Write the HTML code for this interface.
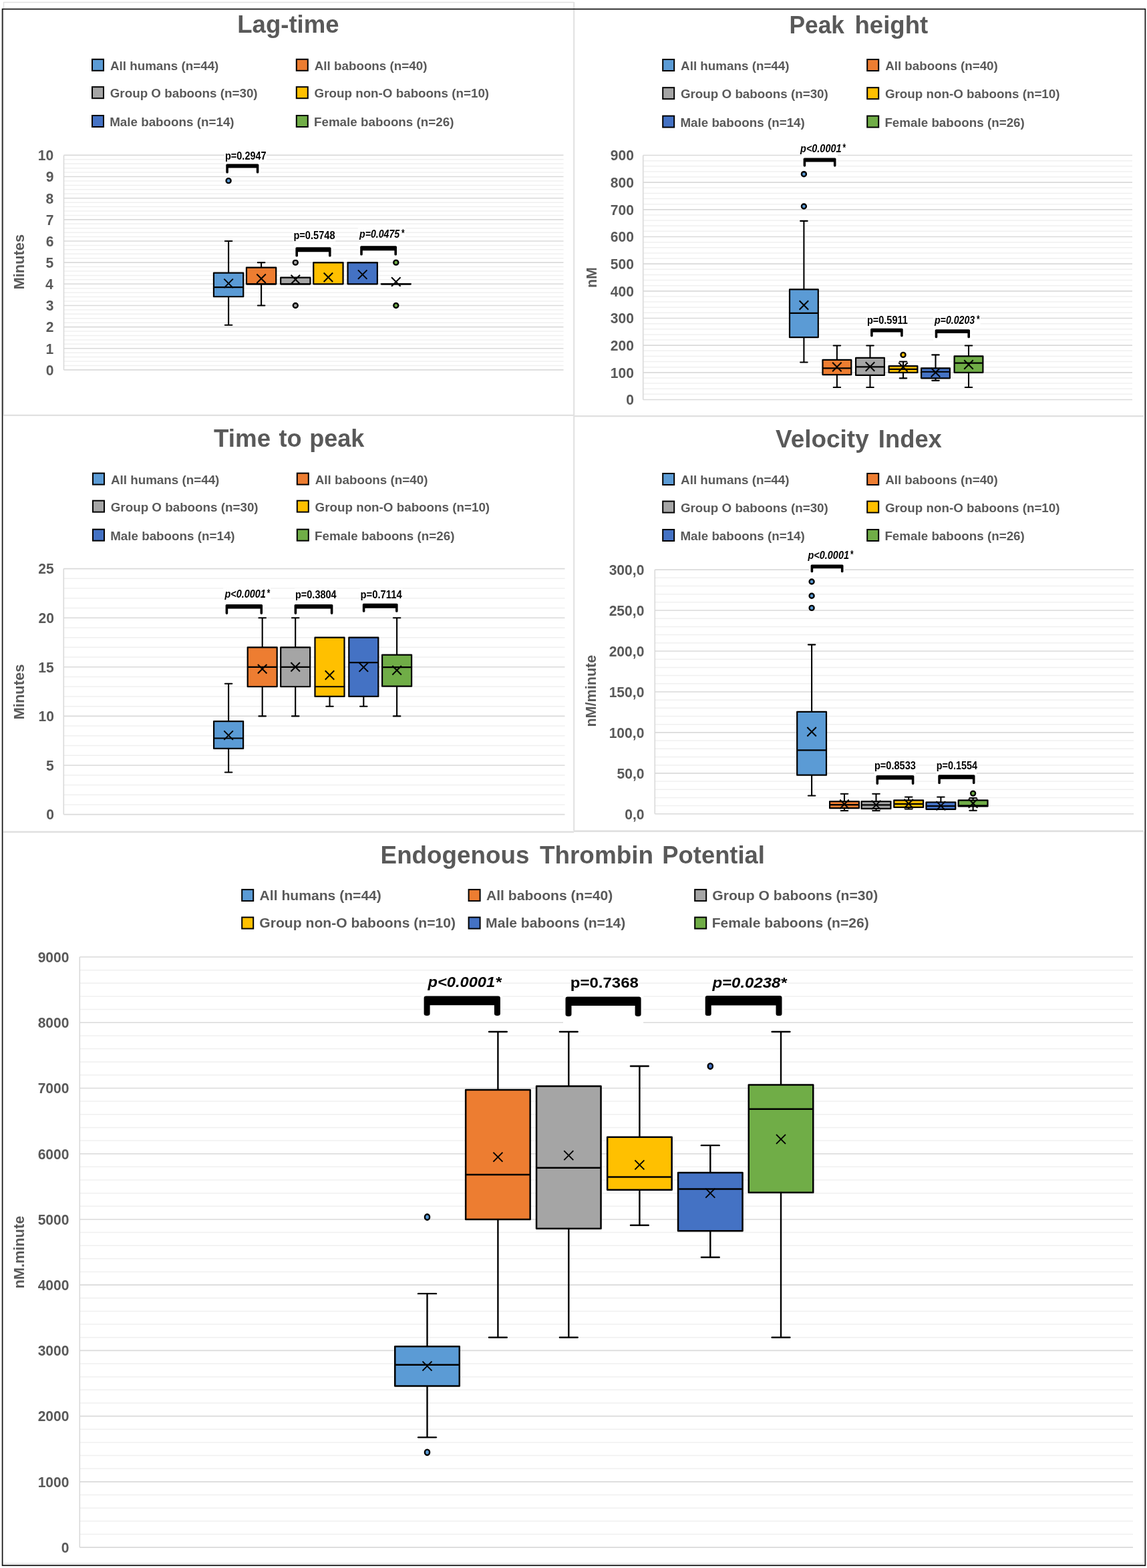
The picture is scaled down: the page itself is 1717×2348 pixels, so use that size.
<!DOCTYPE html><html><head><meta charset="utf-8"><title>Thrombin generation box plots</title><style>html,body{margin:0;padding:0;background:#fff;}svg{display:block;}</style></head><body><svg width="1717" height="2348" viewBox="0 0 1717 2348" font-family="Liberation Sans, Arial, sans-serif">
<rect x="0" y="0" width="1717" height="2348" fill="#fff" stroke="none" stroke-width="0"/>
<line x1="5" y1="3.5" x2="859" y2="3.5" stroke="#E0E0E0" stroke-width="1.6" stroke-linecap="butt"/>
<line x1="5.5" y1="3" x2="5.5" y2="622" stroke="#E0E0E0" stroke-width="1.4" stroke-linecap="butt"/>
<line x1="859.2" y1="3" x2="859.2" y2="1244" stroke="#E0E0E0" stroke-width="2" stroke-linecap="butt"/>
<line x1="5" y1="621.8" x2="859" y2="621.8" stroke="#E0E0E0" stroke-width="2.2" stroke-linecap="butt"/>
<line x1="859" y1="623.2" x2="1712" y2="623.2" stroke="#E0E0E0" stroke-width="2.2" stroke-linecap="butt"/>
<line x1="5" y1="1245.8" x2="859" y2="1245.8" stroke="#E0E0E0" stroke-width="2.4" stroke-linecap="butt"/>
<line x1="859" y1="1244.6" x2="1712" y2="1244.6" stroke="#E0E0E0" stroke-width="2.6" stroke-linecap="butt"/>
<line x1="5" y1="2341.5" x2="1712" y2="2341.5" stroke="#E8E8E8" stroke-width="2" stroke-linecap="butt"/>
<line x1="1711.9" y1="1245" x2="1711.9" y2="2342" stroke="#E6E6E6" stroke-width="1.4" stroke-linecap="butt"/>
<text x="355.24" y="49.4" font-size="36" font-weight="bold" fill="#595959" textLength="152.4" lengthAdjust="spacingAndGlyphs">Lag-time</text>
<rect x="138" y="88.8" width="17" height="17" fill="#5B9BD5" stroke="#000" stroke-width="2"/>
<text x="164.94" y="104.8" font-size="18.8" font-weight="bold" fill="#595959" textLength="162.43" lengthAdjust="spacingAndGlyphs">All humans (n=44)</text>
<rect x="443.8" y="88.8" width="17" height="17" fill="#ED7D31" stroke="#000" stroke-width="2"/>
<text x="470.74" y="104.8" font-size="18.8" font-weight="bold" fill="#595959" textLength="168.68" lengthAdjust="spacingAndGlyphs">All baboons (n=40)</text>
<rect x="138" y="130.2" width="17" height="17" fill="#A5A5A5" stroke="#000" stroke-width="2"/>
<text x="164.75" y="146.2" font-size="18.8" font-weight="bold" fill="#595959" textLength="220.89" lengthAdjust="spacingAndGlyphs">Group O baboons (n=30)</text>
<rect x="443.8" y="130.2" width="17" height="17" fill="#FFC000" stroke="#000" stroke-width="2"/>
<text x="470.55" y="146.2" font-size="18.8" font-weight="bold" fill="#595959" textLength="261.6" lengthAdjust="spacingAndGlyphs">Group non-O baboons (n=10)</text>
<rect x="138" y="173" width="17" height="17" fill="#4472C4" stroke="#000" stroke-width="2"/>
<text x="164.18" y="189" font-size="18.8" font-weight="bold" fill="#595959" textLength="186.45" lengthAdjust="spacingAndGlyphs">Male baboons (n=14)</text>
<rect x="443.8" y="173" width="17" height="17" fill="#70AD47" stroke="#000" stroke-width="2"/>
<text x="469.98" y="189" font-size="18.8" font-weight="bold" fill="#595959" textLength="209.45" lengthAdjust="spacingAndGlyphs">Female baboons (n=26)</text>
<text transform="translate(36 433.53) rotate(-90)" font-size="22.5" font-weight="bold" fill="#595959" textLength="82.76" lengthAdjust="spacingAndGlyphs">Minutes</text>
<text x="1181.42" y="49.5" font-size="36" font-weight="bold" fill="#595959" textLength="82.61" lengthAdjust="spacingAndGlyphs">Peak</text>
<text x="1279.44" y="49.5" font-size="36" font-weight="bold" fill="#595959" textLength="109.8" lengthAdjust="spacingAndGlyphs">height</text>
<rect x="992.2" y="89" width="17" height="17" fill="#5B9BD5" stroke="#000" stroke-width="2"/>
<text x="1019.14" y="105" font-size="18.8" font-weight="bold" fill="#595959" textLength="162.43" lengthAdjust="spacingAndGlyphs">All humans (n=44)</text>
<rect x="1298.2" y="89" width="17" height="17" fill="#ED7D31" stroke="#000" stroke-width="2"/>
<text x="1325.14" y="105" font-size="18.8" font-weight="bold" fill="#595959" textLength="168.68" lengthAdjust="spacingAndGlyphs">All baboons (n=40)</text>
<rect x="992.2" y="131.2" width="17" height="17" fill="#A5A5A5" stroke="#000" stroke-width="2"/>
<text x="1018.95" y="147.2" font-size="18.8" font-weight="bold" fill="#595959" textLength="220.89" lengthAdjust="spacingAndGlyphs">Group O baboons (n=30)</text>
<rect x="1298.2" y="131.2" width="17" height="17" fill="#FFC000" stroke="#000" stroke-width="2"/>
<text x="1324.95" y="147.2" font-size="18.8" font-weight="bold" fill="#595959" textLength="261.6" lengthAdjust="spacingAndGlyphs">Group non-O baboons (n=10)</text>
<rect x="992.2" y="173.6" width="17" height="17" fill="#4472C4" stroke="#000" stroke-width="2"/>
<text x="1018.38" y="189.6" font-size="18.8" font-weight="bold" fill="#595959" textLength="186.45" lengthAdjust="spacingAndGlyphs">Male baboons (n=14)</text>
<rect x="1298.2" y="173.6" width="17" height="17" fill="#70AD47" stroke="#000" stroke-width="2"/>
<text x="1324.38" y="189.6" font-size="18.8" font-weight="bold" fill="#595959" textLength="209.45" lengthAdjust="spacingAndGlyphs">Female baboons (n=26)</text>
<text transform="translate(892.7 431.1) rotate(-90)" font-size="22.5" font-weight="bold" fill="#595959" textLength="30.86" lengthAdjust="spacingAndGlyphs">nM</text>
<text x="320.03" y="668.7" font-size="36" font-weight="bold" fill="#595959" textLength="85.08" lengthAdjust="spacingAndGlyphs">Time</text>
<text x="417.54" y="668.7" font-size="36" font-weight="bold" fill="#595959" textLength="34.14" lengthAdjust="spacingAndGlyphs">to</text>
<text x="463.18" y="668.7" font-size="36" font-weight="bold" fill="#595959" textLength="82.19" lengthAdjust="spacingAndGlyphs">peak</text>
<rect x="139" y="708.6" width="17" height="17" fill="#5B9BD5" stroke="#000" stroke-width="2"/>
<text x="165.94" y="724.6" font-size="18.8" font-weight="bold" fill="#595959" textLength="162.43" lengthAdjust="spacingAndGlyphs">All humans (n=44)</text>
<rect x="444.8" y="708.6" width="17" height="17" fill="#ED7D31" stroke="#000" stroke-width="2"/>
<text x="471.74" y="724.6" font-size="18.8" font-weight="bold" fill="#595959" textLength="168.68" lengthAdjust="spacingAndGlyphs">All baboons (n=40)</text>
<rect x="139" y="749.7" width="17" height="17" fill="#A5A5A5" stroke="#000" stroke-width="2"/>
<text x="165.75" y="765.7" font-size="18.8" font-weight="bold" fill="#595959" textLength="220.89" lengthAdjust="spacingAndGlyphs">Group O baboons (n=30)</text>
<rect x="444.8" y="749.7" width="17" height="17" fill="#FFC000" stroke="#000" stroke-width="2"/>
<text x="471.55" y="765.7" font-size="18.8" font-weight="bold" fill="#595959" textLength="261.6" lengthAdjust="spacingAndGlyphs">Group non-O baboons (n=10)</text>
<rect x="139" y="792.7" width="17" height="17" fill="#4472C4" stroke="#000" stroke-width="2"/>
<text x="165.18" y="808.7" font-size="18.8" font-weight="bold" fill="#595959" textLength="186.45" lengthAdjust="spacingAndGlyphs">Male baboons (n=14)</text>
<rect x="444.8" y="792.7" width="17" height="17" fill="#70AD47" stroke="#000" stroke-width="2"/>
<text x="470.98" y="808.7" font-size="18.8" font-weight="bold" fill="#595959" textLength="209.45" lengthAdjust="spacingAndGlyphs">Female baboons (n=26)</text>
<text transform="translate(36 1077.44) rotate(-90)" font-size="22.5" font-weight="bold" fill="#595959" textLength="82.86" lengthAdjust="spacingAndGlyphs">Minutes</text>
<text x="1161.03" y="670.1" font-size="36" font-weight="bold" fill="#595959" textLength="139.72" lengthAdjust="spacingAndGlyphs">Velocity</text>
<text x="1314.85" y="670.1" font-size="36" font-weight="bold" fill="#595959" textLength="95" lengthAdjust="spacingAndGlyphs">Index</text>
<rect x="992.2" y="709" width="17" height="17" fill="#5B9BD5" stroke="#000" stroke-width="2"/>
<text x="1019.14" y="725" font-size="18.8" font-weight="bold" fill="#595959" textLength="162.43" lengthAdjust="spacingAndGlyphs">All humans (n=44)</text>
<rect x="1298.2" y="709" width="17" height="17" fill="#ED7D31" stroke="#000" stroke-width="2"/>
<text x="1325.14" y="725" font-size="18.8" font-weight="bold" fill="#595959" textLength="168.68" lengthAdjust="spacingAndGlyphs">All baboons (n=40)</text>
<rect x="992.2" y="750.6" width="17" height="17" fill="#A5A5A5" stroke="#000" stroke-width="2"/>
<text x="1018.95" y="766.6" font-size="18.8" font-weight="bold" fill="#595959" textLength="220.89" lengthAdjust="spacingAndGlyphs">Group O baboons (n=30)</text>
<rect x="1298.2" y="750.6" width="17" height="17" fill="#FFC000" stroke="#000" stroke-width="2"/>
<text x="1324.95" y="766.6" font-size="18.8" font-weight="bold" fill="#595959" textLength="261.6" lengthAdjust="spacingAndGlyphs">Group non-O baboons (n=10)</text>
<rect x="992.2" y="793" width="17" height="17" fill="#4472C4" stroke="#000" stroke-width="2"/>
<text x="1018.38" y="809" font-size="18.8" font-weight="bold" fill="#595959" textLength="186.45" lengthAdjust="spacingAndGlyphs">Male baboons (n=14)</text>
<rect x="1298.2" y="793" width="17" height="17" fill="#70AD47" stroke="#000" stroke-width="2"/>
<text x="1324.38" y="809" font-size="18.8" font-weight="bold" fill="#595959" textLength="209.45" lengthAdjust="spacingAndGlyphs">Female baboons (n=26)</text>
<text transform="translate(891.7 1088.61) rotate(-90)" font-size="22.5" font-weight="bold" fill="#595959" textLength="107.86" lengthAdjust="spacingAndGlyphs">nM/minute</text>
<text x="569.62" y="1292.9" font-size="36" font-weight="bold" fill="#595959" textLength="222.75" lengthAdjust="spacingAndGlyphs">Endogenous</text>
<text x="807.93" y="1292.9" font-size="36" font-weight="bold" fill="#595959" textLength="170.09" lengthAdjust="spacingAndGlyphs">Thrombin</text>
<text x="991.35" y="1292.9" font-size="36" font-weight="bold" fill="#595959" textLength="153.58" lengthAdjust="spacingAndGlyphs">Potential</text>
<rect x="362.2" y="1332.1" width="17" height="17" fill="#5B9BD5" stroke="#000" stroke-width="2"/>
<text x="388.57" y="1347.7" font-size="21.1" font-weight="bold" fill="#595959" textLength="182.31" lengthAdjust="spacingAndGlyphs">All humans (n=44)</text>
<rect x="701.6" y="1332.1" width="17" height="17" fill="#ED7D31" stroke="#000" stroke-width="2"/>
<text x="727.97" y="1347.7" font-size="21.1" font-weight="bold" fill="#595959" textLength="189.32" lengthAdjust="spacingAndGlyphs">All baboons (n=40)</text>
<rect x="1040.2" y="1332.1" width="17" height="17" fill="#A5A5A5" stroke="#000" stroke-width="2"/>
<text x="1066.36" y="1347.7" font-size="21.1" font-weight="bold" fill="#595959" textLength="247.92" lengthAdjust="spacingAndGlyphs">Group O baboons (n=30)</text>
<rect x="362.2" y="1373.6" width="17" height="17" fill="#FFC000" stroke="#000" stroke-width="2"/>
<text x="388.36" y="1389.2" font-size="21.1" font-weight="bold" fill="#595959" textLength="293.61" lengthAdjust="spacingAndGlyphs">Group non-O baboons (n=10)</text>
<rect x="701.6" y="1373.6" width="17" height="17" fill="#4472C4" stroke="#000" stroke-width="2"/>
<text x="727.12" y="1389.2" font-size="21.1" font-weight="bold" fill="#595959" textLength="209.26" lengthAdjust="spacingAndGlyphs">Male baboons (n=14)</text>
<rect x="1040.2" y="1373.6" width="17" height="17" fill="#70AD47" stroke="#000" stroke-width="2"/>
<text x="1065.72" y="1389.2" font-size="21.1" font-weight="bold" fill="#595959" textLength="235.07" lengthAdjust="spacingAndGlyphs">Female baboons (n=26)</text>
<text transform="translate(36 1929.52) rotate(-90)" font-size="22" font-weight="bold" fill="#595959" textLength="108.78" lengthAdjust="spacingAndGlyphs">nM.minute</text>
<line x1="95.5" y1="547.47" x2="843.5" y2="547.47" stroke="#F0F0F0" stroke-width="1.5" stroke-linecap="butt"/>
<line x1="95.5" y1="541.04" x2="843.5" y2="541.04" stroke="#F0F0F0" stroke-width="1.5" stroke-linecap="butt"/>
<line x1="95.5" y1="534.61" x2="843.5" y2="534.61" stroke="#F0F0F0" stroke-width="1.5" stroke-linecap="butt"/>
<line x1="95.5" y1="528.18" x2="843.5" y2="528.18" stroke="#F0F0F0" stroke-width="1.5" stroke-linecap="butt"/>
<line x1="95.5" y1="515.32" x2="843.5" y2="515.32" stroke="#F0F0F0" stroke-width="1.5" stroke-linecap="butt"/>
<line x1="95.5" y1="508.89" x2="843.5" y2="508.89" stroke="#F0F0F0" stroke-width="1.5" stroke-linecap="butt"/>
<line x1="95.5" y1="502.46" x2="843.5" y2="502.46" stroke="#F0F0F0" stroke-width="1.5" stroke-linecap="butt"/>
<line x1="95.5" y1="496.03" x2="843.5" y2="496.03" stroke="#F0F0F0" stroke-width="1.5" stroke-linecap="butt"/>
<line x1="95.5" y1="483.17" x2="843.5" y2="483.17" stroke="#F0F0F0" stroke-width="1.5" stroke-linecap="butt"/>
<line x1="95.5" y1="476.74" x2="843.5" y2="476.74" stroke="#F0F0F0" stroke-width="1.5" stroke-linecap="butt"/>
<line x1="95.5" y1="470.31" x2="843.5" y2="470.31" stroke="#F0F0F0" stroke-width="1.5" stroke-linecap="butt"/>
<line x1="95.5" y1="463.88" x2="843.5" y2="463.88" stroke="#F0F0F0" stroke-width="1.5" stroke-linecap="butt"/>
<line x1="95.5" y1="451.02" x2="843.5" y2="451.02" stroke="#F0F0F0" stroke-width="1.5" stroke-linecap="butt"/>
<line x1="95.5" y1="444.59" x2="843.5" y2="444.59" stroke="#F0F0F0" stroke-width="1.5" stroke-linecap="butt"/>
<line x1="95.5" y1="438.16" x2="843.5" y2="438.16" stroke="#F0F0F0" stroke-width="1.5" stroke-linecap="butt"/>
<line x1="95.5" y1="431.73" x2="843.5" y2="431.73" stroke="#F0F0F0" stroke-width="1.5" stroke-linecap="butt"/>
<line x1="95.5" y1="418.87" x2="843.5" y2="418.87" stroke="#F0F0F0" stroke-width="1.5" stroke-linecap="butt"/>
<line x1="95.5" y1="412.44" x2="843.5" y2="412.44" stroke="#F0F0F0" stroke-width="1.5" stroke-linecap="butt"/>
<line x1="95.5" y1="406.01" x2="843.5" y2="406.01" stroke="#F0F0F0" stroke-width="1.5" stroke-linecap="butt"/>
<line x1="95.5" y1="399.58" x2="843.5" y2="399.58" stroke="#F0F0F0" stroke-width="1.5" stroke-linecap="butt"/>
<line x1="95.5" y1="386.72" x2="843.5" y2="386.72" stroke="#F0F0F0" stroke-width="1.5" stroke-linecap="butt"/>
<line x1="95.5" y1="380.29" x2="843.5" y2="380.29" stroke="#F0F0F0" stroke-width="1.5" stroke-linecap="butt"/>
<line x1="95.5" y1="373.86" x2="843.5" y2="373.86" stroke="#F0F0F0" stroke-width="1.5" stroke-linecap="butt"/>
<line x1="95.5" y1="367.43" x2="843.5" y2="367.43" stroke="#F0F0F0" stroke-width="1.5" stroke-linecap="butt"/>
<line x1="95.5" y1="354.57" x2="843.5" y2="354.57" stroke="#F0F0F0" stroke-width="1.5" stroke-linecap="butt"/>
<line x1="95.5" y1="348.14" x2="843.5" y2="348.14" stroke="#F0F0F0" stroke-width="1.5" stroke-linecap="butt"/>
<line x1="95.5" y1="341.71" x2="843.5" y2="341.71" stroke="#F0F0F0" stroke-width="1.5" stroke-linecap="butt"/>
<line x1="95.5" y1="335.28" x2="843.5" y2="335.28" stroke="#F0F0F0" stroke-width="1.5" stroke-linecap="butt"/>
<line x1="95.5" y1="322.42" x2="843.5" y2="322.42" stroke="#F0F0F0" stroke-width="1.5" stroke-linecap="butt"/>
<line x1="95.5" y1="315.99" x2="843.5" y2="315.99" stroke="#F0F0F0" stroke-width="1.5" stroke-linecap="butt"/>
<line x1="95.5" y1="309.56" x2="843.5" y2="309.56" stroke="#F0F0F0" stroke-width="1.5" stroke-linecap="butt"/>
<line x1="95.5" y1="303.13" x2="843.5" y2="303.13" stroke="#F0F0F0" stroke-width="1.5" stroke-linecap="butt"/>
<line x1="95.5" y1="290.27" x2="843.5" y2="290.27" stroke="#F0F0F0" stroke-width="1.5" stroke-linecap="butt"/>
<line x1="95.5" y1="283.84" x2="843.5" y2="283.84" stroke="#F0F0F0" stroke-width="1.5" stroke-linecap="butt"/>
<line x1="95.5" y1="277.41" x2="843.5" y2="277.41" stroke="#F0F0F0" stroke-width="1.5" stroke-linecap="butt"/>
<line x1="95.5" y1="270.98" x2="843.5" y2="270.98" stroke="#F0F0F0" stroke-width="1.5" stroke-linecap="butt"/>
<line x1="95.5" y1="258.12" x2="843.5" y2="258.12" stroke="#F0F0F0" stroke-width="1.5" stroke-linecap="butt"/>
<line x1="95.5" y1="251.69" x2="843.5" y2="251.69" stroke="#F0F0F0" stroke-width="1.5" stroke-linecap="butt"/>
<line x1="95.5" y1="245.26" x2="843.5" y2="245.26" stroke="#F0F0F0" stroke-width="1.5" stroke-linecap="butt"/>
<line x1="95.5" y1="238.83" x2="843.5" y2="238.83" stroke="#F0F0F0" stroke-width="1.5" stroke-linecap="butt"/>
<line x1="95.5" y1="553.9" x2="843.5" y2="553.9" stroke="#DADADA" stroke-width="1.6" stroke-linecap="butt"/>
<line x1="95.5" y1="521.75" x2="843.5" y2="521.75" stroke="#DADADA" stroke-width="1.6" stroke-linecap="butt"/>
<line x1="95.5" y1="489.6" x2="843.5" y2="489.6" stroke="#DADADA" stroke-width="1.6" stroke-linecap="butt"/>
<line x1="95.5" y1="457.45" x2="843.5" y2="457.45" stroke="#DADADA" stroke-width="1.6" stroke-linecap="butt"/>
<line x1="95.5" y1="425.3" x2="843.5" y2="425.3" stroke="#DADADA" stroke-width="1.6" stroke-linecap="butt"/>
<line x1="95.5" y1="393.15" x2="843.5" y2="393.15" stroke="#DADADA" stroke-width="1.6" stroke-linecap="butt"/>
<line x1="95.5" y1="361" x2="843.5" y2="361" stroke="#DADADA" stroke-width="1.6" stroke-linecap="butt"/>
<line x1="95.5" y1="328.85" x2="843.5" y2="328.85" stroke="#DADADA" stroke-width="1.6" stroke-linecap="butt"/>
<line x1="95.5" y1="296.7" x2="843.5" y2="296.7" stroke="#DADADA" stroke-width="1.6" stroke-linecap="butt"/>
<line x1="95.5" y1="264.55" x2="843.5" y2="264.55" stroke="#DADADA" stroke-width="1.6" stroke-linecap="butt"/>
<line x1="95.5" y1="232.4" x2="843.5" y2="232.4" stroke="#DADADA" stroke-width="1.6" stroke-linecap="butt"/>
<line x1="95.5" y1="232.4" x2="95.5" y2="553.9" stroke="#D9D9D9" stroke-width="1.6" stroke-linecap="butt"/>
<text x="68.64" y="561.7" font-size="22.9" font-weight="bold" fill="#595959" textLength="11.72" lengthAdjust="spacingAndGlyphs">0</text>
<text x="68.43" y="529.55" font-size="22.9" font-weight="bold" fill="#595959" textLength="11.72" lengthAdjust="spacingAndGlyphs">1</text>
<text x="68.64" y="497.4" font-size="22.9" font-weight="bold" fill="#595959" textLength="11.72" lengthAdjust="spacingAndGlyphs">2</text>
<text x="68.64" y="465.25" font-size="22.9" font-weight="bold" fill="#595959" textLength="11.72" lengthAdjust="spacingAndGlyphs">3</text>
<text x="68.01" y="433.1" font-size="22.9" font-weight="bold" fill="#595959" textLength="11.72" lengthAdjust="spacingAndGlyphs">4</text>
<text x="68.43" y="400.95" font-size="22.9" font-weight="bold" fill="#595959" textLength="11.72" lengthAdjust="spacingAndGlyphs">5</text>
<text x="68.64" y="368.8" font-size="22.9" font-weight="bold" fill="#595959" textLength="11.72" lengthAdjust="spacingAndGlyphs">6</text>
<text x="68.86" y="336.65" font-size="22.9" font-weight="bold" fill="#595959" textLength="11.72" lengthAdjust="spacingAndGlyphs">7</text>
<text x="68.43" y="304.5" font-size="22.9" font-weight="bold" fill="#595959" textLength="11.72" lengthAdjust="spacingAndGlyphs">8</text>
<text x="68.64" y="272.35" font-size="22.9" font-weight="bold" fill="#595959" textLength="11.72" lengthAdjust="spacingAndGlyphs">9</text>
<text x="56.85" y="240.2" font-size="22.9" font-weight="bold" fill="#595959" textLength="23.43" lengthAdjust="spacingAndGlyphs">10</text>
<line x1="342.1" y1="444.27" x2="342.1" y2="486.71" stroke="#000" stroke-width="2.1" stroke-linecap="butt"/>
<line x1="336.85" y1="486.71" x2="347.35" y2="486.71" stroke="#000" stroke-width="2.1" stroke-linecap="round"/>
<line x1="342.1" y1="408.58" x2="342.1" y2="361" stroke="#000" stroke-width="2.1" stroke-linecap="butt"/>
<line x1="336.85" y1="361" x2="347.35" y2="361" stroke="#000" stroke-width="2.1" stroke-linecap="round"/>
<rect x="319.95" y="408.58" width="44.3" height="35.69" fill="#5B9BD5" stroke="#000" stroke-width="2.2" stroke-linejoin="round"/>
<line x1="319.95" y1="430.12" x2="364.25" y2="430.12" stroke="#000" stroke-width="2.2" stroke-linecap="butt"/>
<path d="M335.35 417.59L348.85 431.09M335.35 431.09L348.85 417.59" stroke="#000" stroke-width="2" fill="none"/>
<ellipse cx="342.1" cy="270.66" rx="3.5" ry="3.5" fill="#5B9BD5" stroke="#000" stroke-width="2.4"/>
<line x1="391.1" y1="425.3" x2="391.1" y2="457.45" stroke="#000" stroke-width="2.1" stroke-linecap="butt"/>
<line x1="385.85" y1="457.45" x2="396.35" y2="457.45" stroke="#000" stroke-width="2.1" stroke-linecap="round"/>
<line x1="391.1" y1="400.54" x2="391.1" y2="393.15" stroke="#000" stroke-width="2.1" stroke-linecap="butt"/>
<line x1="385.85" y1="393.15" x2="396.35" y2="393.15" stroke="#000" stroke-width="2.1" stroke-linecap="round"/>
<rect x="368.95" y="400.54" width="44.3" height="24.76" fill="#ED7D31" stroke="#000" stroke-width="2.2" stroke-linejoin="round"/>
<line x1="368.95" y1="425.3" x2="413.25" y2="425.3" stroke="#000" stroke-width="2.2" stroke-linecap="butt"/>
<path d="M384.35 410.51L397.85 424.01M384.35 424.01L397.85 410.51" stroke="#000" stroke-width="2" fill="none"/>
<rect x="420.15" y="415.65" width="44.3" height="9.64" fill="#A5A5A5" stroke="#000" stroke-width="2.2" stroke-linejoin="round"/>
<line x1="420.15" y1="425.3" x2="464.45" y2="425.3" stroke="#000" stroke-width="2.2" stroke-linecap="butt"/>
<path d="M435.55 411.8L449.05 425.3M435.55 425.3L449.05 411.8" stroke="#000" stroke-width="2" fill="none"/>
<ellipse cx="442.3" cy="393.15" rx="3.5" ry="3.5" fill="#A5A5A5" stroke="#000" stroke-width="2.4"/>
<ellipse cx="442.3" cy="457.45" rx="3.5" ry="3.5" fill="#A5A5A5" stroke="#000" stroke-width="2.4"/>
<rect x="469.25" y="393.15" width="44.3" height="32.15" fill="#FFC000" stroke="#000" stroke-width="2.2" stroke-linejoin="round"/>
<line x1="469.25" y1="393.15" x2="513.55" y2="393.15" stroke="#000" stroke-width="2.2" stroke-linecap="butt"/>
<path d="M484.65 408.58L498.15 422.08M484.65 422.08L498.15 408.58" stroke="#000" stroke-width="2" fill="none"/>
<rect x="520.55" y="393.15" width="44.3" height="32.15" fill="#4472C4" stroke="#000" stroke-width="2.2" stroke-linejoin="round"/>
<line x1="520.55" y1="393.15" x2="564.85" y2="393.15" stroke="#000" stroke-width="2.2" stroke-linecap="butt"/>
<path d="M535.95 404.4L549.45 417.9M535.95 417.9L549.45 404.4" stroke="#000" stroke-width="2" fill="none"/>
<rect x="570.65" y="425.3" width="44.3" height="0.01" fill="#70AD47" stroke="#000" stroke-width="2.2" stroke-linejoin="round"/>
<line x1="570.65" y1="425.3" x2="614.95" y2="425.3" stroke="#000" stroke-width="2.2" stroke-linecap="butt"/>
<path d="M586.05 415.33L599.55 428.83M586.05 428.83L599.55 415.33" stroke="#000" stroke-width="2" fill="none"/>
<ellipse cx="592.8" cy="393.15" rx="3.5" ry="3.5" fill="#70AD47" stroke="#000" stroke-width="2.4"/>
<ellipse cx="592.8" cy="457.45" rx="3.5" ry="3.5" fill="#70AD47" stroke="#000" stroke-width="2.4"/>
<line x1="962.7" y1="590.37" x2="1695" y2="590.37" stroke="#F0F0F0" stroke-width="1.5" stroke-linecap="butt"/>
<line x1="962.7" y1="582.23" x2="1695" y2="582.23" stroke="#F0F0F0" stroke-width="1.5" stroke-linecap="butt"/>
<line x1="962.7" y1="574.1" x2="1695" y2="574.1" stroke="#F0F0F0" stroke-width="1.5" stroke-linecap="butt"/>
<line x1="962.7" y1="565.97" x2="1695" y2="565.97" stroke="#F0F0F0" stroke-width="1.5" stroke-linecap="butt"/>
<line x1="962.7" y1="549.7" x2="1695" y2="549.7" stroke="#F0F0F0" stroke-width="1.5" stroke-linecap="butt"/>
<line x1="962.7" y1="541.57" x2="1695" y2="541.57" stroke="#F0F0F0" stroke-width="1.5" stroke-linecap="butt"/>
<line x1="962.7" y1="533.43" x2="1695" y2="533.43" stroke="#F0F0F0" stroke-width="1.5" stroke-linecap="butt"/>
<line x1="962.7" y1="525.3" x2="1695" y2="525.3" stroke="#F0F0F0" stroke-width="1.5" stroke-linecap="butt"/>
<line x1="962.7" y1="509.03" x2="1695" y2="509.03" stroke="#F0F0F0" stroke-width="1.5" stroke-linecap="butt"/>
<line x1="962.7" y1="500.9" x2="1695" y2="500.9" stroke="#F0F0F0" stroke-width="1.5" stroke-linecap="butt"/>
<line x1="962.7" y1="492.77" x2="1695" y2="492.77" stroke="#F0F0F0" stroke-width="1.5" stroke-linecap="butt"/>
<line x1="962.7" y1="484.63" x2="1695" y2="484.63" stroke="#F0F0F0" stroke-width="1.5" stroke-linecap="butt"/>
<line x1="962.7" y1="468.37" x2="1695" y2="468.37" stroke="#F0F0F0" stroke-width="1.5" stroke-linecap="butt"/>
<line x1="962.7" y1="460.23" x2="1695" y2="460.23" stroke="#F0F0F0" stroke-width="1.5" stroke-linecap="butt"/>
<line x1="962.7" y1="452.1" x2="1695" y2="452.1" stroke="#F0F0F0" stroke-width="1.5" stroke-linecap="butt"/>
<line x1="962.7" y1="443.97" x2="1695" y2="443.97" stroke="#F0F0F0" stroke-width="1.5" stroke-linecap="butt"/>
<line x1="962.7" y1="427.7" x2="1695" y2="427.7" stroke="#F0F0F0" stroke-width="1.5" stroke-linecap="butt"/>
<line x1="962.7" y1="419.57" x2="1695" y2="419.57" stroke="#F0F0F0" stroke-width="1.5" stroke-linecap="butt"/>
<line x1="962.7" y1="411.43" x2="1695" y2="411.43" stroke="#F0F0F0" stroke-width="1.5" stroke-linecap="butt"/>
<line x1="962.7" y1="403.3" x2="1695" y2="403.3" stroke="#F0F0F0" stroke-width="1.5" stroke-linecap="butt"/>
<line x1="962.7" y1="387.03" x2="1695" y2="387.03" stroke="#F0F0F0" stroke-width="1.5" stroke-linecap="butt"/>
<line x1="962.7" y1="378.9" x2="1695" y2="378.9" stroke="#F0F0F0" stroke-width="1.5" stroke-linecap="butt"/>
<line x1="962.7" y1="370.77" x2="1695" y2="370.77" stroke="#F0F0F0" stroke-width="1.5" stroke-linecap="butt"/>
<line x1="962.7" y1="362.63" x2="1695" y2="362.63" stroke="#F0F0F0" stroke-width="1.5" stroke-linecap="butt"/>
<line x1="962.7" y1="346.37" x2="1695" y2="346.37" stroke="#F0F0F0" stroke-width="1.5" stroke-linecap="butt"/>
<line x1="962.7" y1="338.23" x2="1695" y2="338.23" stroke="#F0F0F0" stroke-width="1.5" stroke-linecap="butt"/>
<line x1="962.7" y1="330.1" x2="1695" y2="330.1" stroke="#F0F0F0" stroke-width="1.5" stroke-linecap="butt"/>
<line x1="962.7" y1="321.97" x2="1695" y2="321.97" stroke="#F0F0F0" stroke-width="1.5" stroke-linecap="butt"/>
<line x1="962.7" y1="305.7" x2="1695" y2="305.7" stroke="#F0F0F0" stroke-width="1.5" stroke-linecap="butt"/>
<line x1="962.7" y1="297.57" x2="1695" y2="297.57" stroke="#F0F0F0" stroke-width="1.5" stroke-linecap="butt"/>
<line x1="962.7" y1="289.43" x2="1695" y2="289.43" stroke="#F0F0F0" stroke-width="1.5" stroke-linecap="butt"/>
<line x1="962.7" y1="281.3" x2="1695" y2="281.3" stroke="#F0F0F0" stroke-width="1.5" stroke-linecap="butt"/>
<line x1="962.7" y1="265.03" x2="1695" y2="265.03" stroke="#F0F0F0" stroke-width="1.5" stroke-linecap="butt"/>
<line x1="962.7" y1="256.9" x2="1695" y2="256.9" stroke="#F0F0F0" stroke-width="1.5" stroke-linecap="butt"/>
<line x1="962.7" y1="248.77" x2="1695" y2="248.77" stroke="#F0F0F0" stroke-width="1.5" stroke-linecap="butt"/>
<line x1="962.7" y1="240.63" x2="1695" y2="240.63" stroke="#F0F0F0" stroke-width="1.5" stroke-linecap="butt"/>
<line x1="962.7" y1="598.5" x2="1695" y2="598.5" stroke="#DADADA" stroke-width="1.6" stroke-linecap="butt"/>
<line x1="962.7" y1="557.83" x2="1695" y2="557.83" stroke="#DADADA" stroke-width="1.6" stroke-linecap="butt"/>
<line x1="962.7" y1="517.17" x2="1695" y2="517.17" stroke="#DADADA" stroke-width="1.6" stroke-linecap="butt"/>
<line x1="962.7" y1="476.5" x2="1695" y2="476.5" stroke="#DADADA" stroke-width="1.6" stroke-linecap="butt"/>
<line x1="962.7" y1="435.83" x2="1695" y2="435.83" stroke="#DADADA" stroke-width="1.6" stroke-linecap="butt"/>
<line x1="962.7" y1="395.17" x2="1695" y2="395.17" stroke="#DADADA" stroke-width="1.6" stroke-linecap="butt"/>
<line x1="962.7" y1="354.5" x2="1695" y2="354.5" stroke="#DADADA" stroke-width="1.6" stroke-linecap="butt"/>
<line x1="962.7" y1="313.83" x2="1695" y2="313.83" stroke="#DADADA" stroke-width="1.6" stroke-linecap="butt"/>
<line x1="962.7" y1="273.17" x2="1695" y2="273.17" stroke="#DADADA" stroke-width="1.6" stroke-linecap="butt"/>
<line x1="962.7" y1="232.5" x2="1695" y2="232.5" stroke="#DADADA" stroke-width="1.6" stroke-linecap="butt"/>
<line x1="962.7" y1="232.5" x2="962.7" y2="598.5" stroke="#D9D9D9" stroke-width="1.6" stroke-linecap="butt"/>
<text x="937.24" y="606.3" font-size="22.9" font-weight="bold" fill="#595959" textLength="11.72" lengthAdjust="spacingAndGlyphs">0</text>
<text x="913.86" y="565.63" font-size="22.9" font-weight="bold" fill="#595959" textLength="35.15" lengthAdjust="spacingAndGlyphs">100</text>
<text x="913.86" y="524.97" font-size="22.9" font-weight="bold" fill="#595959" textLength="35.15" lengthAdjust="spacingAndGlyphs">200</text>
<text x="913.86" y="484.3" font-size="22.9" font-weight="bold" fill="#595959" textLength="35.15" lengthAdjust="spacingAndGlyphs">300</text>
<text x="913.86" y="443.63" font-size="22.9" font-weight="bold" fill="#595959" textLength="35.15" lengthAdjust="spacingAndGlyphs">400</text>
<text x="913.86" y="402.97" font-size="22.9" font-weight="bold" fill="#595959" textLength="35.15" lengthAdjust="spacingAndGlyphs">500</text>
<text x="913.86" y="362.3" font-size="22.9" font-weight="bold" fill="#595959" textLength="35.15" lengthAdjust="spacingAndGlyphs">600</text>
<text x="913.86" y="321.63" font-size="22.9" font-weight="bold" fill="#595959" textLength="35.15" lengthAdjust="spacingAndGlyphs">700</text>
<text x="913.86" y="280.97" font-size="22.9" font-weight="bold" fill="#595959" textLength="35.15" lengthAdjust="spacingAndGlyphs">800</text>
<text x="913.86" y="240.3" font-size="22.9" font-weight="bold" fill="#595959" textLength="35.15" lengthAdjust="spacingAndGlyphs">900</text>
<line x1="1203.4" y1="505.17" x2="1203.4" y2="542.46" stroke="#000" stroke-width="2.1" stroke-linecap="butt"/>
<line x1="1198.15" y1="542.46" x2="1208.65" y2="542.46" stroke="#000" stroke-width="2.1" stroke-linecap="round"/>
<line x1="1203.4" y1="433.39" x2="1203.4" y2="330.91" stroke="#000" stroke-width="2.1" stroke-linecap="butt"/>
<line x1="1198.15" y1="330.91" x2="1208.65" y2="330.91" stroke="#000" stroke-width="2.1" stroke-linecap="round"/>
<rect x="1182" y="433.39" width="42.8" height="71.78" fill="#5B9BD5" stroke="#000" stroke-width="2.2" stroke-linejoin="round"/>
<line x1="1182" y1="468.9" x2="1224.8" y2="468.9" stroke="#000" stroke-width="2.2" stroke-linecap="butt"/>
<path d="M1196.65 450.23L1210.15 463.73M1196.65 463.73L1210.15 450.23" stroke="#000" stroke-width="2" fill="none"/>
<ellipse cx="1203.4" cy="260.68" rx="3.5" ry="3.5" fill="#5B9BD5" stroke="#000" stroke-width="2.4"/>
<ellipse cx="1203.4" cy="309.03" rx="3.5" ry="3.5" fill="#5B9BD5" stroke="#000" stroke-width="2.4"/>
<line x1="1252.9" y1="561.09" x2="1252.9" y2="580" stroke="#000" stroke-width="2.1" stroke-linecap="butt"/>
<line x1="1247.65" y1="580" x2="1258.15" y2="580" stroke="#000" stroke-width="2.1" stroke-linecap="round"/>
<line x1="1252.9" y1="538.88" x2="1252.9" y2="517.57" stroke="#000" stroke-width="2.1" stroke-linecap="butt"/>
<line x1="1247.65" y1="517.57" x2="1258.15" y2="517.57" stroke="#000" stroke-width="2.1" stroke-linecap="round"/>
<rect x="1231.5" y="538.88" width="42.8" height="22.2" fill="#ED7D31" stroke="#000" stroke-width="2.2" stroke-linejoin="round"/>
<line x1="1231.5" y1="551.45" x2="1274.3" y2="551.45" stroke="#000" stroke-width="2.2" stroke-linecap="butt"/>
<path d="M1246.15 542.71L1259.65 556.21M1246.15 556.21L1259.65 542.71" stroke="#000" stroke-width="2" fill="none"/>
<line x1="1302.5" y1="561.9" x2="1302.5" y2="580" stroke="#000" stroke-width="2.1" stroke-linecap="butt"/>
<line x1="1297.25" y1="580" x2="1307.75" y2="580" stroke="#000" stroke-width="2.1" stroke-linecap="round"/>
<line x1="1302.5" y1="535.87" x2="1302.5" y2="517.57" stroke="#000" stroke-width="2.1" stroke-linecap="butt"/>
<line x1="1297.25" y1="517.57" x2="1307.75" y2="517.57" stroke="#000" stroke-width="2.1" stroke-linecap="round"/>
<rect x="1281.1" y="535.87" width="42.8" height="26.03" fill="#A5A5A5" stroke="#000" stroke-width="2.2" stroke-linejoin="round"/>
<line x1="1281.1" y1="549.29" x2="1323.9" y2="549.29" stroke="#000" stroke-width="2.2" stroke-linecap="butt"/>
<path d="M1295.75 542.3L1309.25 555.8M1295.75 555.8L1309.25 542.3" stroke="#000" stroke-width="2" fill="none"/>
<line x1="1352" y1="557.83" x2="1352" y2="566.37" stroke="#000" stroke-width="2.1" stroke-linecap="butt"/>
<line x1="1346.75" y1="566.37" x2="1357.25" y2="566.37" stroke="#000" stroke-width="2.1" stroke-linecap="round"/>
<line x1="1352" y1="548.07" x2="1352" y2="541.57" stroke="#000" stroke-width="2.1" stroke-linecap="butt"/>
<line x1="1346.75" y1="541.57" x2="1357.25" y2="541.57" stroke="#000" stroke-width="2.1" stroke-linecap="round"/>
<rect x="1330.6" y="548.07" width="42.8" height="9.76" fill="#FFC000" stroke="#000" stroke-width="2.2" stroke-linejoin="round"/>
<line x1="1330.6" y1="552.95" x2="1373.4" y2="552.95" stroke="#000" stroke-width="2.2" stroke-linecap="butt"/>
<path d="M1345.25 542.95L1358.75 556.45M1345.25 556.45L1358.75 542.95" stroke="#000" stroke-width="2" fill="none"/>
<ellipse cx="1352" cy="531.4" rx="3.5" ry="3.5" fill="#FFC000" stroke="#000" stroke-width="2.4"/>
<line x1="1400.5" y1="566.37" x2="1400.5" y2="569.83" stroke="#000" stroke-width="2.1" stroke-linecap="butt"/>
<line x1="1395.25" y1="569.83" x2="1405.75" y2="569.83" stroke="#000" stroke-width="2.1" stroke-linecap="round"/>
<line x1="1400.5" y1="551.45" x2="1400.5" y2="531.4" stroke="#000" stroke-width="2.1" stroke-linecap="butt"/>
<line x1="1395.25" y1="531.4" x2="1405.75" y2="531.4" stroke="#000" stroke-width="2.1" stroke-linecap="round"/>
<rect x="1379.1" y="551.45" width="42.8" height="14.92" fill="#4472C4" stroke="#000" stroke-width="2.2" stroke-linejoin="round"/>
<line x1="1379.1" y1="556.74" x2="1421.9" y2="556.74" stroke="#000" stroke-width="2.2" stroke-linecap="butt"/>
<path d="M1393.75 551.08L1407.25 564.58M1393.75 564.58L1407.25 551.08" stroke="#000" stroke-width="2" fill="none"/>
<line x1="1450" y1="557.83" x2="1450" y2="580" stroke="#000" stroke-width="2.1" stroke-linecap="butt"/>
<line x1="1444.75" y1="580" x2="1455.25" y2="580" stroke="#000" stroke-width="2.1" stroke-linecap="round"/>
<line x1="1450" y1="533.43" x2="1450" y2="517.57" stroke="#000" stroke-width="2.1" stroke-linecap="butt"/>
<line x1="1444.75" y1="517.57" x2="1455.25" y2="517.57" stroke="#000" stroke-width="2.1" stroke-linecap="round"/>
<rect x="1428.6" y="533.43" width="42.8" height="24.4" fill="#70AD47" stroke="#000" stroke-width="2.2" stroke-linejoin="round"/>
<line x1="1428.6" y1="543.6" x2="1471.4" y2="543.6" stroke="#000" stroke-width="2.2" stroke-linecap="butt"/>
<path d="M1443.25 539.29L1456.75 552.79M1443.25 552.79L1456.75 539.29" stroke="#000" stroke-width="2" fill="none"/>
<line x1="95.3" y1="1204.88" x2="845.5" y2="1204.88" stroke="#F0F0F0" stroke-width="1.5" stroke-linecap="butt"/>
<line x1="95.3" y1="1190.16" x2="845.5" y2="1190.16" stroke="#F0F0F0" stroke-width="1.5" stroke-linecap="butt"/>
<line x1="95.3" y1="1175.44" x2="845.5" y2="1175.44" stroke="#F0F0F0" stroke-width="1.5" stroke-linecap="butt"/>
<line x1="95.3" y1="1160.72" x2="845.5" y2="1160.72" stroke="#F0F0F0" stroke-width="1.5" stroke-linecap="butt"/>
<line x1="95.3" y1="1131.28" x2="845.5" y2="1131.28" stroke="#F0F0F0" stroke-width="1.5" stroke-linecap="butt"/>
<line x1="95.3" y1="1116.56" x2="845.5" y2="1116.56" stroke="#F0F0F0" stroke-width="1.5" stroke-linecap="butt"/>
<line x1="95.3" y1="1101.84" x2="845.5" y2="1101.84" stroke="#F0F0F0" stroke-width="1.5" stroke-linecap="butt"/>
<line x1="95.3" y1="1087.12" x2="845.5" y2="1087.12" stroke="#F0F0F0" stroke-width="1.5" stroke-linecap="butt"/>
<line x1="95.3" y1="1057.68" x2="845.5" y2="1057.68" stroke="#F0F0F0" stroke-width="1.5" stroke-linecap="butt"/>
<line x1="95.3" y1="1042.96" x2="845.5" y2="1042.96" stroke="#F0F0F0" stroke-width="1.5" stroke-linecap="butt"/>
<line x1="95.3" y1="1028.24" x2="845.5" y2="1028.24" stroke="#F0F0F0" stroke-width="1.5" stroke-linecap="butt"/>
<line x1="95.3" y1="1013.52" x2="845.5" y2="1013.52" stroke="#F0F0F0" stroke-width="1.5" stroke-linecap="butt"/>
<line x1="95.3" y1="984.08" x2="845.5" y2="984.08" stroke="#F0F0F0" stroke-width="1.5" stroke-linecap="butt"/>
<line x1="95.3" y1="969.36" x2="845.5" y2="969.36" stroke="#F0F0F0" stroke-width="1.5" stroke-linecap="butt"/>
<line x1="95.3" y1="954.64" x2="845.5" y2="954.64" stroke="#F0F0F0" stroke-width="1.5" stroke-linecap="butt"/>
<line x1="95.3" y1="939.92" x2="845.5" y2="939.92" stroke="#F0F0F0" stroke-width="1.5" stroke-linecap="butt"/>
<line x1="95.3" y1="910.48" x2="845.5" y2="910.48" stroke="#F0F0F0" stroke-width="1.5" stroke-linecap="butt"/>
<line x1="95.3" y1="895.76" x2="845.5" y2="895.76" stroke="#F0F0F0" stroke-width="1.5" stroke-linecap="butt"/>
<line x1="95.3" y1="881.04" x2="845.5" y2="881.04" stroke="#F0F0F0" stroke-width="1.5" stroke-linecap="butt"/>
<line x1="95.3" y1="866.32" x2="845.5" y2="866.32" stroke="#F0F0F0" stroke-width="1.5" stroke-linecap="butt"/>
<line x1="95.3" y1="1219.6" x2="845.5" y2="1219.6" stroke="#DADADA" stroke-width="1.6" stroke-linecap="butt"/>
<line x1="95.3" y1="1146" x2="845.5" y2="1146" stroke="#DADADA" stroke-width="1.6" stroke-linecap="butt"/>
<line x1="95.3" y1="1072.4" x2="845.5" y2="1072.4" stroke="#DADADA" stroke-width="1.6" stroke-linecap="butt"/>
<line x1="95.3" y1="998.8" x2="845.5" y2="998.8" stroke="#DADADA" stroke-width="1.6" stroke-linecap="butt"/>
<line x1="95.3" y1="925.2" x2="845.5" y2="925.2" stroke="#DADADA" stroke-width="1.6" stroke-linecap="butt"/>
<line x1="95.3" y1="851.6" x2="845.5" y2="851.6" stroke="#DADADA" stroke-width="1.6" stroke-linecap="butt"/>
<line x1="95.3" y1="851.6" x2="95.3" y2="1219.6" stroke="#D9D9D9" stroke-width="1.6" stroke-linecap="butt"/>
<text x="69.24" y="1227.4" font-size="22.9" font-weight="bold" fill="#595959" textLength="11.72" lengthAdjust="spacingAndGlyphs">0</text>
<text x="69.03" y="1153.8" font-size="22.9" font-weight="bold" fill="#595959" textLength="11.72" lengthAdjust="spacingAndGlyphs">5</text>
<text x="57.45" y="1080.2" font-size="22.9" font-weight="bold" fill="#595959" textLength="23.43" lengthAdjust="spacingAndGlyphs">10</text>
<text x="57.24" y="1006.6" font-size="22.9" font-weight="bold" fill="#595959" textLength="23.43" lengthAdjust="spacingAndGlyphs">15</text>
<text x="57.45" y="933" font-size="22.9" font-weight="bold" fill="#595959" textLength="23.43" lengthAdjust="spacingAndGlyphs">20</text>
<text x="57.24" y="859.4" font-size="22.9" font-weight="bold" fill="#595959" textLength="23.43" lengthAdjust="spacingAndGlyphs">25</text>
<line x1="342.1" y1="1120.98" x2="342.1" y2="1156.45" stroke="#000" stroke-width="2.1" stroke-linecap="butt"/>
<line x1="336.85" y1="1156.45" x2="347.35" y2="1156.45" stroke="#000" stroke-width="2.1" stroke-linecap="round"/>
<line x1="342.1" y1="1080.05" x2="342.1" y2="1023.82" stroke="#000" stroke-width="2.1" stroke-linecap="butt"/>
<line x1="336.85" y1="1023.82" x2="347.35" y2="1023.82" stroke="#000" stroke-width="2.1" stroke-linecap="round"/>
<rect x="320.1" y="1080.05" width="44" height="40.92" fill="#5B9BD5" stroke="#000" stroke-width="2.2" stroke-linejoin="round"/>
<line x1="320.1" y1="1105.52" x2="364.1" y2="1105.52" stroke="#000" stroke-width="2.2" stroke-linecap="butt"/>
<path d="M335.35 1094.35L348.85 1107.85M335.35 1107.85L348.85 1094.35" stroke="#000" stroke-width="2" fill="none"/>
<line x1="392.7" y1="1028.24" x2="392.7" y2="1072.4" stroke="#000" stroke-width="2.1" stroke-linecap="butt"/>
<line x1="387.45" y1="1072.4" x2="397.95" y2="1072.4" stroke="#000" stroke-width="2.1" stroke-linecap="round"/>
<line x1="392.7" y1="969.36" x2="392.7" y2="925.2" stroke="#000" stroke-width="2.1" stroke-linecap="butt"/>
<line x1="387.45" y1="925.2" x2="397.95" y2="925.2" stroke="#000" stroke-width="2.1" stroke-linecap="round"/>
<rect x="370.7" y="969.36" width="44" height="58.88" fill="#ED7D31" stroke="#000" stroke-width="2.2" stroke-linejoin="round"/>
<line x1="370.7" y1="998.8" x2="414.7" y2="998.8" stroke="#000" stroke-width="2.2" stroke-linecap="butt"/>
<path d="M385.95 994.99L399.45 1008.49M385.95 1008.49L399.45 994.99" stroke="#000" stroke-width="2" fill="none"/>
<line x1="442.2" y1="1028.24" x2="442.2" y2="1072.4" stroke="#000" stroke-width="2.1" stroke-linecap="butt"/>
<line x1="436.95" y1="1072.4" x2="447.45" y2="1072.4" stroke="#000" stroke-width="2.1" stroke-linecap="round"/>
<line x1="442.2" y1="969.36" x2="442.2" y2="925.2" stroke="#000" stroke-width="2.1" stroke-linecap="butt"/>
<line x1="436.95" y1="925.2" x2="447.45" y2="925.2" stroke="#000" stroke-width="2.1" stroke-linecap="round"/>
<rect x="420.2" y="969.36" width="44" height="58.88" fill="#A5A5A5" stroke="#000" stroke-width="2.2" stroke-linejoin="round"/>
<line x1="420.2" y1="998.8" x2="464.2" y2="998.8" stroke="#000" stroke-width="2.2" stroke-linecap="butt"/>
<path d="M435.45 992.05L448.95 1005.55M435.45 1005.55L448.95 992.05" stroke="#000" stroke-width="2" fill="none"/>
<line x1="493.5" y1="1042.96" x2="493.5" y2="1057.68" stroke="#000" stroke-width="2.1" stroke-linecap="butt"/>
<line x1="488.25" y1="1057.68" x2="498.75" y2="1057.68" stroke="#000" stroke-width="2.1" stroke-linecap="round"/>
<rect x="471.5" y="954.64" width="44" height="88.32" fill="#FFC000" stroke="#000" stroke-width="2.2" stroke-linejoin="round"/>
<line x1="471.5" y1="1028.24" x2="515.5" y2="1028.24" stroke="#000" stroke-width="2.2" stroke-linecap="butt"/>
<path d="M486.75 1004.27L500.25 1017.77M486.75 1017.77L500.25 1004.27" stroke="#000" stroke-width="2" fill="none"/>
<line x1="544.3" y1="1042.96" x2="544.3" y2="1057.68" stroke="#000" stroke-width="2.1" stroke-linecap="butt"/>
<line x1="539.05" y1="1057.68" x2="549.55" y2="1057.68" stroke="#000" stroke-width="2.1" stroke-linecap="round"/>
<rect x="522.3" y="954.64" width="44" height="88.32" fill="#4472C4" stroke="#000" stroke-width="2.2" stroke-linejoin="round"/>
<line x1="522.3" y1="992.03" x2="566.3" y2="992.03" stroke="#000" stroke-width="2.2" stroke-linecap="butt"/>
<path d="M537.55 992.34L551.05 1005.84M537.55 1005.84L551.05 992.34" stroke="#000" stroke-width="2" fill="none"/>
<line x1="594.1" y1="1027.65" x2="594.1" y2="1072.4" stroke="#000" stroke-width="2.1" stroke-linecap="butt"/>
<line x1="588.85" y1="1072.4" x2="599.35" y2="1072.4" stroke="#000" stroke-width="2.1" stroke-linecap="round"/>
<line x1="594.1" y1="980.55" x2="594.1" y2="925.2" stroke="#000" stroke-width="2.1" stroke-linecap="butt"/>
<line x1="588.85" y1="925.2" x2="599.35" y2="925.2" stroke="#000" stroke-width="2.1" stroke-linecap="round"/>
<rect x="572.1" y="980.55" width="44" height="47.1" fill="#70AD47" stroke="#000" stroke-width="2.2" stroke-linejoin="round"/>
<line x1="572.1" y1="999.09" x2="616.1" y2="999.09" stroke="#000" stroke-width="2.2" stroke-linecap="butt"/>
<path d="M587.35 997.05L600.85 1010.55M587.35 1010.55L600.85 997.05" stroke="#000" stroke-width="2" fill="none"/>
<line x1="980.3" y1="1206.61" x2="1697" y2="1206.61" stroke="#F0F0F0" stroke-width="1.5" stroke-linecap="butt"/>
<line x1="980.3" y1="1194.42" x2="1697" y2="1194.42" stroke="#F0F0F0" stroke-width="1.5" stroke-linecap="butt"/>
<line x1="980.3" y1="1182.23" x2="1697" y2="1182.23" stroke="#F0F0F0" stroke-width="1.5" stroke-linecap="butt"/>
<line x1="980.3" y1="1170.04" x2="1697" y2="1170.04" stroke="#F0F0F0" stroke-width="1.5" stroke-linecap="butt"/>
<line x1="980.3" y1="1145.66" x2="1697" y2="1145.66" stroke="#F0F0F0" stroke-width="1.5" stroke-linecap="butt"/>
<line x1="980.3" y1="1133.47" x2="1697" y2="1133.47" stroke="#F0F0F0" stroke-width="1.5" stroke-linecap="butt"/>
<line x1="980.3" y1="1121.28" x2="1697" y2="1121.28" stroke="#F0F0F0" stroke-width="1.5" stroke-linecap="butt"/>
<line x1="980.3" y1="1109.09" x2="1697" y2="1109.09" stroke="#F0F0F0" stroke-width="1.5" stroke-linecap="butt"/>
<line x1="980.3" y1="1084.71" x2="1697" y2="1084.71" stroke="#F0F0F0" stroke-width="1.5" stroke-linecap="butt"/>
<line x1="980.3" y1="1072.52" x2="1697" y2="1072.52" stroke="#F0F0F0" stroke-width="1.5" stroke-linecap="butt"/>
<line x1="980.3" y1="1060.33" x2="1697" y2="1060.33" stroke="#F0F0F0" stroke-width="1.5" stroke-linecap="butt"/>
<line x1="980.3" y1="1048.14" x2="1697" y2="1048.14" stroke="#F0F0F0" stroke-width="1.5" stroke-linecap="butt"/>
<line x1="980.3" y1="1023.76" x2="1697" y2="1023.76" stroke="#F0F0F0" stroke-width="1.5" stroke-linecap="butt"/>
<line x1="980.3" y1="1011.57" x2="1697" y2="1011.57" stroke="#F0F0F0" stroke-width="1.5" stroke-linecap="butt"/>
<line x1="980.3" y1="999.38" x2="1697" y2="999.38" stroke="#F0F0F0" stroke-width="1.5" stroke-linecap="butt"/>
<line x1="980.3" y1="987.19" x2="1697" y2="987.19" stroke="#F0F0F0" stroke-width="1.5" stroke-linecap="butt"/>
<line x1="980.3" y1="962.81" x2="1697" y2="962.81" stroke="#F0F0F0" stroke-width="1.5" stroke-linecap="butt"/>
<line x1="980.3" y1="950.62" x2="1697" y2="950.62" stroke="#F0F0F0" stroke-width="1.5" stroke-linecap="butt"/>
<line x1="980.3" y1="938.43" x2="1697" y2="938.43" stroke="#F0F0F0" stroke-width="1.5" stroke-linecap="butt"/>
<line x1="980.3" y1="926.24" x2="1697" y2="926.24" stroke="#F0F0F0" stroke-width="1.5" stroke-linecap="butt"/>
<line x1="980.3" y1="901.86" x2="1697" y2="901.86" stroke="#F0F0F0" stroke-width="1.5" stroke-linecap="butt"/>
<line x1="980.3" y1="889.67" x2="1697" y2="889.67" stroke="#F0F0F0" stroke-width="1.5" stroke-linecap="butt"/>
<line x1="980.3" y1="877.48" x2="1697" y2="877.48" stroke="#F0F0F0" stroke-width="1.5" stroke-linecap="butt"/>
<line x1="980.3" y1="865.29" x2="1697" y2="865.29" stroke="#F0F0F0" stroke-width="1.5" stroke-linecap="butt"/>
<line x1="980.3" y1="1218.8" x2="1697" y2="1218.8" stroke="#DADADA" stroke-width="1.6" stroke-linecap="butt"/>
<line x1="980.3" y1="1157.85" x2="1697" y2="1157.85" stroke="#DADADA" stroke-width="1.6" stroke-linecap="butt"/>
<line x1="980.3" y1="1096.9" x2="1697" y2="1096.9" stroke="#DADADA" stroke-width="1.6" stroke-linecap="butt"/>
<line x1="980.3" y1="1035.95" x2="1697" y2="1035.95" stroke="#DADADA" stroke-width="1.6" stroke-linecap="butt"/>
<line x1="980.3" y1="975" x2="1697" y2="975" stroke="#DADADA" stroke-width="1.6" stroke-linecap="butt"/>
<line x1="980.3" y1="914.05" x2="1697" y2="914.05" stroke="#DADADA" stroke-width="1.6" stroke-linecap="butt"/>
<line x1="980.3" y1="853.1" x2="1697" y2="853.1" stroke="#DADADA" stroke-width="1.6" stroke-linecap="butt"/>
<line x1="980.3" y1="853.1" x2="980.3" y2="1218.8" stroke="#D9D9D9" stroke-width="1.6" stroke-linecap="butt"/>
<text x="935.26" y="1226.6" font-size="22.9" font-weight="bold" fill="#595959" textLength="29.28" lengthAdjust="spacingAndGlyphs">0,0</text>
<text x="923.46" y="1165.65" font-size="22.9" font-weight="bold" fill="#595959" textLength="41" lengthAdjust="spacingAndGlyphs">50,0</text>
<text x="911.66" y="1104.7" font-size="22.9" font-weight="bold" fill="#595959" textLength="52.72" lengthAdjust="spacingAndGlyphs">100,0</text>
<text x="911.66" y="1043.75" font-size="22.9" font-weight="bold" fill="#595959" textLength="52.72" lengthAdjust="spacingAndGlyphs">150,0</text>
<text x="911.66" y="982.8" font-size="22.9" font-weight="bold" fill="#595959" textLength="52.72" lengthAdjust="spacingAndGlyphs">200,0</text>
<text x="911.66" y="921.85" font-size="22.9" font-weight="bold" fill="#595959" textLength="52.72" lengthAdjust="spacingAndGlyphs">250,0</text>
<text x="911.66" y="860.9" font-size="22.9" font-weight="bold" fill="#595959" textLength="52.72" lengthAdjust="spacingAndGlyphs">300,0</text>
<line x1="1215.1" y1="1160.65" x2="1215.1" y2="1191.49" stroke="#000" stroke-width="2.1" stroke-linecap="butt"/>
<line x1="1209.85" y1="1191.49" x2="1220.35" y2="1191.49" stroke="#000" stroke-width="2.1" stroke-linecap="round"/>
<line x1="1215.1" y1="1065.82" x2="1215.1" y2="965.37" stroke="#000" stroke-width="2.1" stroke-linecap="butt"/>
<line x1="1209.85" y1="965.37" x2="1220.35" y2="965.37" stroke="#000" stroke-width="2.1" stroke-linecap="round"/>
<rect x="1193.2" y="1065.82" width="43.8" height="94.84" fill="#5B9BD5" stroke="#000" stroke-width="2.2" stroke-linejoin="round"/>
<line x1="1193.2" y1="1123.35" x2="1237" y2="1123.35" stroke="#000" stroke-width="2.2" stroke-linecap="butt"/>
<path d="M1208.35 1088.93L1221.85 1102.43M1208.35 1102.43L1221.85 1088.93" stroke="#000" stroke-width="2" fill="none"/>
<ellipse cx="1215.1" cy="871.02" rx="3.5" ry="3.5" fill="#5B9BD5" stroke="#000" stroke-width="2.4"/>
<ellipse cx="1215.1" cy="892.23" rx="3.5" ry="3.5" fill="#5B9BD5" stroke="#000" stroke-width="2.4"/>
<ellipse cx="1215.1" cy="910.39" rx="3.5" ry="3.5" fill="#5B9BD5" stroke="#000" stroke-width="2.4"/>
<line x1="1264" y1="1210.15" x2="1264" y2="1214.05" stroke="#000" stroke-width="2.1" stroke-linecap="butt"/>
<line x1="1258.75" y1="1214.05" x2="1269.25" y2="1214.05" stroke="#000" stroke-width="2.1" stroke-linecap="round"/>
<line x1="1264" y1="1200.03" x2="1264" y2="1188.81" stroke="#000" stroke-width="2.1" stroke-linecap="butt"/>
<line x1="1258.75" y1="1188.81" x2="1269.25" y2="1188.81" stroke="#000" stroke-width="2.1" stroke-linecap="round"/>
<rect x="1242.1" y="1200.03" width="43.8" height="10.12" fill="#ED7D31" stroke="#000" stroke-width="2.2" stroke-linejoin="round"/>
<line x1="1242.1" y1="1205.03" x2="1285.9" y2="1205.03" stroke="#000" stroke-width="2.2" stroke-linecap="butt"/>
<path d="M1257.25 1197.54L1270.75 1211.04M1257.25 1211.04L1270.75 1197.54" stroke="#000" stroke-width="2" fill="none"/>
<line x1="1311.5" y1="1210.88" x2="1311.5" y2="1214.05" stroke="#000" stroke-width="2.1" stroke-linecap="butt"/>
<line x1="1306.25" y1="1214.05" x2="1316.75" y2="1214.05" stroke="#000" stroke-width="2.1" stroke-linecap="round"/>
<line x1="1311.5" y1="1200.03" x2="1311.5" y2="1188.81" stroke="#000" stroke-width="2.1" stroke-linecap="butt"/>
<line x1="1306.25" y1="1188.81" x2="1316.75" y2="1188.81" stroke="#000" stroke-width="2.1" stroke-linecap="round"/>
<rect x="1289.6" y="1200.03" width="43.8" height="10.85" fill="#A5A5A5" stroke="#000" stroke-width="2.2" stroke-linejoin="round"/>
<line x1="1289.6" y1="1205.39" x2="1333.4" y2="1205.39" stroke="#000" stroke-width="2.2" stroke-linecap="butt"/>
<path d="M1304.75 1198.64L1318.25 1212.14M1304.75 1212.14L1318.25 1198.64" stroke="#000" stroke-width="2" fill="none"/>
<line x1="1360.2" y1="1208.93" x2="1360.2" y2="1211.49" stroke="#000" stroke-width="2.1" stroke-linecap="butt"/>
<line x1="1354.95" y1="1211.49" x2="1365.45" y2="1211.49" stroke="#000" stroke-width="2.1" stroke-linecap="round"/>
<line x1="1360.2" y1="1198.32" x2="1360.2" y2="1193.44" stroke="#000" stroke-width="2.1" stroke-linecap="butt"/>
<line x1="1354.95" y1="1193.44" x2="1365.45" y2="1193.44" stroke="#000" stroke-width="2.1" stroke-linecap="round"/>
<rect x="1338.3" y="1198.32" width="43.8" height="10.61" fill="#FFC000" stroke="#000" stroke-width="2.2" stroke-linejoin="round"/>
<line x1="1338.3" y1="1203.81" x2="1382.1" y2="1203.81" stroke="#000" stroke-width="2.2" stroke-linecap="butt"/>
<path d="M1353.45 1196.81L1366.95 1210.31M1353.45 1210.31L1366.95 1196.81" stroke="#000" stroke-width="2" fill="none"/>
<line x1="1408.4" y1="1201.25" x2="1408.4" y2="1193.44" stroke="#000" stroke-width="2.1" stroke-linecap="butt"/>
<line x1="1403.15" y1="1193.44" x2="1413.65" y2="1193.44" stroke="#000" stroke-width="2.1" stroke-linecap="round"/>
<rect x="1386.5" y="1201.25" width="43.8" height="10.61" fill="#4472C4" stroke="#000" stroke-width="2.2" stroke-linejoin="round"/>
<line x1="1386.5" y1="1206.98" x2="1430.3" y2="1206.98" stroke="#000" stroke-width="2.2" stroke-linecap="butt"/>
<path d="M1401.65 1199.86L1415.15 1213.36M1401.65 1213.36L1415.15 1199.86" stroke="#000" stroke-width="2" fill="none"/>
<line x1="1456.6" y1="1207.46" x2="1456.6" y2="1213.8" stroke="#000" stroke-width="2.1" stroke-linecap="butt"/>
<line x1="1451.35" y1="1213.8" x2="1461.85" y2="1213.8" stroke="#000" stroke-width="2.1" stroke-linecap="round"/>
<line x1="1456.6" y1="1198.32" x2="1456.6" y2="1195.03" stroke="#000" stroke-width="2.1" stroke-linecap="butt"/>
<line x1="1451.35" y1="1195.03" x2="1461.85" y2="1195.03" stroke="#000" stroke-width="2.1" stroke-linecap="round"/>
<rect x="1434.7" y="1198.32" width="43.8" height="9.14" fill="#70AD47" stroke="#000" stroke-width="2.2" stroke-linejoin="round"/>
<line x1="1434.7" y1="1206.37" x2="1478.5" y2="1206.37" stroke="#000" stroke-width="2.2" stroke-linecap="butt"/>
<path d="M1449.85 1196.2L1463.35 1209.7M1449.85 1209.7L1463.35 1196.2" stroke="#000" stroke-width="2" fill="none"/>
<ellipse cx="1456.6" cy="1188.08" rx="3.5" ry="3.5" fill="#70AD47" stroke="#000" stroke-width="2.4"/>
<line x1="119.3" y1="2297.45" x2="1696" y2="2297.45" stroke="#F0F0F0" stroke-width="1.5" stroke-linecap="butt"/>
<line x1="119.3" y1="2277.81" x2="1696" y2="2277.81" stroke="#F0F0F0" stroke-width="1.5" stroke-linecap="butt"/>
<line x1="119.3" y1="2258.16" x2="1696" y2="2258.16" stroke="#F0F0F0" stroke-width="1.5" stroke-linecap="butt"/>
<line x1="119.3" y1="2238.51" x2="1696" y2="2238.51" stroke="#F0F0F0" stroke-width="1.5" stroke-linecap="butt"/>
<line x1="119.3" y1="2199.22" x2="1696" y2="2199.22" stroke="#F0F0F0" stroke-width="1.5" stroke-linecap="butt"/>
<line x1="119.3" y1="2179.57" x2="1696" y2="2179.57" stroke="#F0F0F0" stroke-width="1.5" stroke-linecap="butt"/>
<line x1="119.3" y1="2159.93" x2="1696" y2="2159.93" stroke="#F0F0F0" stroke-width="1.5" stroke-linecap="butt"/>
<line x1="119.3" y1="2140.28" x2="1696" y2="2140.28" stroke="#F0F0F0" stroke-width="1.5" stroke-linecap="butt"/>
<line x1="119.3" y1="2100.99" x2="1696" y2="2100.99" stroke="#F0F0F0" stroke-width="1.5" stroke-linecap="butt"/>
<line x1="119.3" y1="2081.34" x2="1696" y2="2081.34" stroke="#F0F0F0" stroke-width="1.5" stroke-linecap="butt"/>
<line x1="119.3" y1="2061.69" x2="1696" y2="2061.69" stroke="#F0F0F0" stroke-width="1.5" stroke-linecap="butt"/>
<line x1="119.3" y1="2042.05" x2="1696" y2="2042.05" stroke="#F0F0F0" stroke-width="1.5" stroke-linecap="butt"/>
<line x1="119.3" y1="2002.75" x2="1696" y2="2002.75" stroke="#F0F0F0" stroke-width="1.5" stroke-linecap="butt"/>
<line x1="119.3" y1="1983.11" x2="1696" y2="1983.11" stroke="#F0F0F0" stroke-width="1.5" stroke-linecap="butt"/>
<line x1="119.3" y1="1963.46" x2="1696" y2="1963.46" stroke="#F0F0F0" stroke-width="1.5" stroke-linecap="butt"/>
<line x1="119.3" y1="1943.81" x2="1696" y2="1943.81" stroke="#F0F0F0" stroke-width="1.5" stroke-linecap="butt"/>
<line x1="119.3" y1="1904.52" x2="1696" y2="1904.52" stroke="#F0F0F0" stroke-width="1.5" stroke-linecap="butt"/>
<line x1="119.3" y1="1884.87" x2="1696" y2="1884.87" stroke="#F0F0F0" stroke-width="1.5" stroke-linecap="butt"/>
<line x1="119.3" y1="1865.23" x2="1696" y2="1865.23" stroke="#F0F0F0" stroke-width="1.5" stroke-linecap="butt"/>
<line x1="119.3" y1="1845.58" x2="1696" y2="1845.58" stroke="#F0F0F0" stroke-width="1.5" stroke-linecap="butt"/>
<line x1="119.3" y1="1806.29" x2="1696" y2="1806.29" stroke="#F0F0F0" stroke-width="1.5" stroke-linecap="butt"/>
<line x1="119.3" y1="1786.64" x2="1696" y2="1786.64" stroke="#F0F0F0" stroke-width="1.5" stroke-linecap="butt"/>
<line x1="119.3" y1="1766.99" x2="1696" y2="1766.99" stroke="#F0F0F0" stroke-width="1.5" stroke-linecap="butt"/>
<line x1="119.3" y1="1747.35" x2="1696" y2="1747.35" stroke="#F0F0F0" stroke-width="1.5" stroke-linecap="butt"/>
<line x1="119.3" y1="1708.05" x2="1696" y2="1708.05" stroke="#F0F0F0" stroke-width="1.5" stroke-linecap="butt"/>
<line x1="119.3" y1="1688.41" x2="1696" y2="1688.41" stroke="#F0F0F0" stroke-width="1.5" stroke-linecap="butt"/>
<line x1="119.3" y1="1668.76" x2="1696" y2="1668.76" stroke="#F0F0F0" stroke-width="1.5" stroke-linecap="butt"/>
<line x1="119.3" y1="1649.11" x2="1696" y2="1649.11" stroke="#F0F0F0" stroke-width="1.5" stroke-linecap="butt"/>
<line x1="119.3" y1="1609.82" x2="1696" y2="1609.82" stroke="#F0F0F0" stroke-width="1.5" stroke-linecap="butt"/>
<line x1="119.3" y1="1590.17" x2="1696" y2="1590.17" stroke="#F0F0F0" stroke-width="1.5" stroke-linecap="butt"/>
<line x1="119.3" y1="1570.53" x2="1696" y2="1570.53" stroke="#F0F0F0" stroke-width="1.5" stroke-linecap="butt"/>
<line x1="119.3" y1="1550.88" x2="1696" y2="1550.88" stroke="#F0F0F0" stroke-width="1.5" stroke-linecap="butt"/>
<line x1="119.3" y1="1511.59" x2="1696" y2="1511.59" stroke="#F0F0F0" stroke-width="1.5" stroke-linecap="butt"/>
<line x1="119.3" y1="1491.94" x2="1696" y2="1491.94" stroke="#F0F0F0" stroke-width="1.5" stroke-linecap="butt"/>
<line x1="119.3" y1="1472.29" x2="1696" y2="1472.29" stroke="#F0F0F0" stroke-width="1.5" stroke-linecap="butt"/>
<line x1="119.3" y1="1452.65" x2="1696" y2="1452.65" stroke="#F0F0F0" stroke-width="1.5" stroke-linecap="butt"/>
<line x1="119.3" y1="2317.1" x2="1696" y2="2317.1" stroke="#DADADA" stroke-width="1.6" stroke-linecap="butt"/>
<line x1="119.3" y1="2218.87" x2="1696" y2="2218.87" stroke="#DADADA" stroke-width="1.6" stroke-linecap="butt"/>
<line x1="119.3" y1="2120.63" x2="1696" y2="2120.63" stroke="#DADADA" stroke-width="1.6" stroke-linecap="butt"/>
<line x1="119.3" y1="2022.4" x2="1696" y2="2022.4" stroke="#DADADA" stroke-width="1.6" stroke-linecap="butt"/>
<line x1="119.3" y1="1924.17" x2="1696" y2="1924.17" stroke="#DADADA" stroke-width="1.6" stroke-linecap="butt"/>
<line x1="119.3" y1="1825.93" x2="1696" y2="1825.93" stroke="#DADADA" stroke-width="1.6" stroke-linecap="butt"/>
<line x1="119.3" y1="1727.7" x2="1696" y2="1727.7" stroke="#DADADA" stroke-width="1.6" stroke-linecap="butt"/>
<line x1="119.3" y1="1629.47" x2="1696" y2="1629.47" stroke="#DADADA" stroke-width="1.6" stroke-linecap="butt"/>
<line x1="119.3" y1="1531.23" x2="1696" y2="1531.23" stroke="#DADADA" stroke-width="1.6" stroke-linecap="butt"/>
<line x1="119.3" y1="1433" x2="1696" y2="1433" stroke="#DADADA" stroke-width="1.6" stroke-linecap="butt"/>
<line x1="119.3" y1="1433" x2="119.3" y2="2317.1" stroke="#D9D9D9" stroke-width="1.6" stroke-linecap="butt"/>
<text x="91.84" y="2324.9" font-size="22.9" font-weight="bold" fill="#595959" textLength="11.72" lengthAdjust="spacingAndGlyphs">0</text>
<text x="56.66" y="2226.67" font-size="22.9" font-weight="bold" fill="#595959" textLength="46.86" lengthAdjust="spacingAndGlyphs">1000</text>
<text x="56.66" y="2128.43" font-size="22.9" font-weight="bold" fill="#595959" textLength="46.86" lengthAdjust="spacingAndGlyphs">2000</text>
<text x="56.66" y="2030.2" font-size="22.9" font-weight="bold" fill="#595959" textLength="46.86" lengthAdjust="spacingAndGlyphs">3000</text>
<text x="56.66" y="1931.97" font-size="22.9" font-weight="bold" fill="#595959" textLength="46.86" lengthAdjust="spacingAndGlyphs">4000</text>
<text x="56.66" y="1833.73" font-size="22.9" font-weight="bold" fill="#595959" textLength="46.86" lengthAdjust="spacingAndGlyphs">5000</text>
<text x="56.66" y="1735.5" font-size="22.9" font-weight="bold" fill="#595959" textLength="46.86" lengthAdjust="spacingAndGlyphs">6000</text>
<text x="56.66" y="1637.27" font-size="22.9" font-weight="bold" fill="#595959" textLength="46.86" lengthAdjust="spacingAndGlyphs">7000</text>
<text x="56.66" y="1539.03" font-size="22.9" font-weight="bold" fill="#595959" textLength="46.86" lengthAdjust="spacingAndGlyphs">8000</text>
<text x="56.66" y="1440.8" font-size="22.9" font-weight="bold" fill="#595959" textLength="46.86" lengthAdjust="spacingAndGlyphs">9000</text>
<line x1="639.5" y1="2075.45" x2="639.5" y2="2152.36" stroke="#000" stroke-width="2.4" stroke-linecap="butt"/>
<line x1="626.1" y1="2152.36" x2="652.9" y2="2152.36" stroke="#000" stroke-width="2.4" stroke-linecap="round"/>
<line x1="639.5" y1="2016.21" x2="639.5" y2="1937.13" stroke="#000" stroke-width="2.4" stroke-linecap="butt"/>
<line x1="626.1" y1="1937.13" x2="652.9" y2="1937.13" stroke="#000" stroke-width="2.4" stroke-linecap="round"/>
<rect x="591.25" y="2016.21" width="96.5" height="59.23" fill="#5B9BD5" stroke="#000" stroke-width="2.5" stroke-linejoin="round"/>
<line x1="591.25" y1="2043.81" x2="687.75" y2="2043.81" stroke="#000" stroke-width="2.5" stroke-linecap="butt"/>
<path d="M632.5 2038.58L646.5 2052.58M632.5 2052.58L646.5 2038.58" stroke="#000" stroke-width="1.9" fill="none"/>
<ellipse cx="639.5" cy="1822.5" rx="3.6" ry="4.2" fill="#5B9BD5" stroke="#000" stroke-width="2.4"/>
<ellipse cx="639.5" cy="2174.86" rx="3.6" ry="4.2" fill="#5B9BD5" stroke="#000" stroke-width="2.4"/>
<line x1="745.4" y1="1825.93" x2="745.4" y2="2002.75" stroke="#000" stroke-width="2.4" stroke-linecap="butt"/>
<line x1="732" y1="2002.75" x2="758.8" y2="2002.75" stroke="#000" stroke-width="2.4" stroke-linecap="round"/>
<line x1="745.4" y1="1631.92" x2="745.4" y2="1544.99" stroke="#000" stroke-width="2.4" stroke-linecap="butt"/>
<line x1="732" y1="1544.99" x2="758.8" y2="1544.99" stroke="#000" stroke-width="2.4" stroke-linecap="round"/>
<rect x="697.15" y="1631.92" width="96.5" height="194.01" fill="#ED7D31" stroke="#000" stroke-width="2.5" stroke-linejoin="round"/>
<line x1="697.15" y1="1758.94" x2="793.65" y2="1758.94" stroke="#000" stroke-width="2.5" stroke-linecap="butt"/>
<path d="M738.4 1725.61L752.4 1739.61M738.4 1739.61L752.4 1725.61" stroke="#000" stroke-width="1.9" fill="none"/>
<line x1="851.3" y1="1839.69" x2="851.3" y2="2002.75" stroke="#000" stroke-width="2.4" stroke-linecap="butt"/>
<line x1="837.9" y1="2002.75" x2="864.7" y2="2002.75" stroke="#000" stroke-width="2.4" stroke-linecap="round"/>
<line x1="851.3" y1="1626.52" x2="851.3" y2="1544.99" stroke="#000" stroke-width="2.4" stroke-linecap="butt"/>
<line x1="837.9" y1="1544.99" x2="864.7" y2="1544.99" stroke="#000" stroke-width="2.4" stroke-linecap="round"/>
<rect x="803.05" y="1626.52" width="96.5" height="213.17" fill="#A5A5A5" stroke="#000" stroke-width="2.5" stroke-linejoin="round"/>
<line x1="803.05" y1="1748.82" x2="899.55" y2="1748.82" stroke="#000" stroke-width="2.5" stroke-linecap="butt"/>
<path d="M844.3 1723.16L858.3 1737.16M844.3 1737.16L858.3 1723.16" stroke="#000" stroke-width="1.9" fill="none"/>
<line x1="957.4" y1="1781.73" x2="957.4" y2="1834.77" stroke="#000" stroke-width="2.4" stroke-linecap="butt"/>
<line x1="944" y1="1834.77" x2="970.8" y2="1834.77" stroke="#000" stroke-width="2.4" stroke-linecap="round"/>
<line x1="957.4" y1="1702.65" x2="957.4" y2="1596.56" stroke="#000" stroke-width="2.4" stroke-linecap="butt"/>
<line x1="944" y1="1596.56" x2="970.8" y2="1596.56" stroke="#000" stroke-width="2.4" stroke-linecap="round"/>
<rect x="909.15" y="1702.65" width="96.5" height="79.08" fill="#FFC000" stroke="#000" stroke-width="2.5" stroke-linejoin="round"/>
<line x1="909.15" y1="1762.57" x2="1005.65" y2="1762.57" stroke="#000" stroke-width="2.5" stroke-linecap="butt"/>
<path d="M950.4 1737.4L964.4 1751.4M950.4 1751.4L964.4 1737.4" stroke="#000" stroke-width="1.9" fill="none"/>
<line x1="1063.3" y1="1843.32" x2="1063.3" y2="1882.81" stroke="#000" stroke-width="2.4" stroke-linecap="butt"/>
<line x1="1049.9" y1="1882.81" x2="1076.7" y2="1882.81" stroke="#000" stroke-width="2.4" stroke-linecap="round"/>
<line x1="1063.3" y1="1755.99" x2="1063.3" y2="1715.13" stroke="#000" stroke-width="2.4" stroke-linecap="butt"/>
<line x1="1049.9" y1="1715.13" x2="1076.7" y2="1715.13" stroke="#000" stroke-width="2.4" stroke-linecap="round"/>
<rect x="1015.05" y="1755.99" width="96.5" height="87.33" fill="#4472C4" stroke="#000" stroke-width="2.5" stroke-linejoin="round"/>
<line x1="1015.05" y1="1780.55" x2="1111.55" y2="1780.55" stroke="#000" stroke-width="2.5" stroke-linecap="butt"/>
<path d="M1056.3 1779.64L1070.3 1793.64M1056.3 1793.64L1070.3 1779.64" stroke="#000" stroke-width="1.9" fill="none"/>
<ellipse cx="1063.3" cy="1596.56" rx="3.6" ry="4.2" fill="#4472C4" stroke="#000" stroke-width="2.4"/>
<line x1="1169" y1="1785.66" x2="1169" y2="2002.75" stroke="#000" stroke-width="2.4" stroke-linecap="butt"/>
<line x1="1155.6" y1="2002.75" x2="1182.4" y2="2002.75" stroke="#000" stroke-width="2.4" stroke-linecap="round"/>
<line x1="1169" y1="1624.56" x2="1169" y2="1544.99" stroke="#000" stroke-width="2.4" stroke-linecap="butt"/>
<line x1="1155.6" y1="1544.99" x2="1182.4" y2="1544.99" stroke="#000" stroke-width="2.4" stroke-linecap="round"/>
<rect x="1120.75" y="1624.56" width="96.5" height="161.1" fill="#70AD47" stroke="#000" stroke-width="2.5" stroke-linejoin="round"/>
<line x1="1120.75" y1="1660.7" x2="1217.25" y2="1660.7" stroke="#000" stroke-width="2.5" stroke-linecap="butt"/>
<path d="M1162 1698.89L1176 1712.89M1162 1712.89L1176 1698.89" stroke="#000" stroke-width="1.9" fill="none"/>
<rect x="335.8" y="240" width="54.1" height="23.5" fill="#fff" stroke="none" stroke-width="0"/>
<rect x="336" y="223.78" width="63" height="17.92" fill="#fff" stroke="none" stroke-width="0"/>
<rect x="439.9" y="364.8" width="58.2" height="23.8" fill="#fff" stroke="none" stroke-width="0"/>
<rect x="438.4" y="343.48" width="63.8" height="17.92" fill="#fff" stroke="none" stroke-width="0"/>
<rect x="536.7" y="362.8" width="59.8" height="23.8" fill="#fff" stroke="none" stroke-width="0"/>
<rect x="535.8" y="341.28" width="70.9" height="17.92" fill="#fff" stroke="none" stroke-width="0"/>
<path d="M338.3 257.9 L338.3 247.1 Q338.3 245.5 339.9 245.5 L385.8 245.5 Q387.4 245.5 387.4 247.1 L387.4 257.9 Q387.4 259.5 385.6 259.5 Q383.8 259.5 383.8 257.9 L383.8 251.6 L341.9 251.6 L341.9 257.9 Q341.9 259.5 340.1 259.5 Q338.3 259.5 338.3 257.9 Z" fill="#000"/>
<text x="336.99" y="238.5" font-size="16" font-weight="bold" fill="#000" textLength="61.64" lengthAdjust="spacingAndGlyphs">p=0.2947</text>
<path d="M442.4 383 L442.4 371.9 Q442.4 370.3 444 370.3 L494 370.3 Q495.6 370.3 495.6 371.9 L495.6 383 Q495.6 384.6 493.8 384.6 Q492 384.6 492 383 L492 377.3 L446 377.3 L446 383 Q446 384.6 444.2 384.6 Q442.4 384.6 442.4 383 Z" fill="#000"/>
<text x="439.38" y="358.2" font-size="16" font-weight="bold" fill="#000" textLength="62.16" lengthAdjust="spacingAndGlyphs">p=0.5748</text>
<path d="M539.2 381 L539.2 369.9 Q539.2 368.3 540.8 368.3 L592.4 368.3 Q594 368.3 594 369.9 L594 381 Q594 382.6 592.2 382.6 Q590.4 382.6 590.4 381 L590.4 375.3 L542.8 375.3 L542.8 381 Q542.8 382.6 541 382.6 Q539.2 382.6 539.2 381 Z" fill="#000"/>
<text x="538.08" y="356" font-size="16" font-weight="bold" font-style="italic" fill="#000" textLength="60.08" lengthAdjust="spacingAndGlyphs">p=0.0475</text>
<text x="601.1" y="355.4" font-size="16" font-weight="bold" fill="#000" textLength="4.59" lengthAdjust="spacingAndGlyphs">*</text>
<rect x="1200.1" y="231.1" width="53.9" height="22.6" fill="#fff" stroke="none" stroke-width="0"/>
<rect x="1195.8" y="213.28" width="71.2" height="17.92" fill="#fff" stroke="none" stroke-width="0"/>
<rect x="1300.6" y="486.3" width="53.6" height="22.1" fill="#fff" stroke="none" stroke-width="0"/>
<rect x="1296.9" y="469.78" width="62.6" height="17.92" fill="#fff" stroke="none" stroke-width="0"/>
<rect x="1397.2" y="487.7" width="57.3" height="22.6" fill="#fff" stroke="none" stroke-width="0"/>
<rect x="1396.7" y="469.78" width="70.8" height="17.92" fill="#fff" stroke="none" stroke-width="0"/>
<path d="M1202.6 248.1 L1202.6 238.2 Q1202.6 236.6 1204.2 236.6 L1249.9 236.6 Q1251.5 236.6 1251.5 238.2 L1251.5 248.1 Q1251.5 249.7 1249.7 249.7 Q1247.9 249.7 1247.9 248.1 L1247.9 242.4 L1206.2 242.4 L1206.2 248.1 Q1206.2 249.7 1204.4 249.7 Q1202.6 249.7 1202.6 248.1 Z" fill="#000"/>
<text x="1198.09" y="228" font-size="16" font-weight="bold" font-style="italic" fill="#000" textLength="61.38" lengthAdjust="spacingAndGlyphs">p&lt;0.0001</text>
<text x="1261.4" y="227.4" font-size="16" font-weight="bold" fill="#000" textLength="4.59" lengthAdjust="spacingAndGlyphs">*</text>
<path d="M1303.1 502.8 L1303.1 493.4 Q1303.1 491.8 1304.7 491.8 L1350.1 491.8 Q1351.7 491.8 1351.7 493.4 L1351.7 502.8 Q1351.7 504.4 1349.9 504.4 Q1348.1 504.4 1348.1 502.8 L1348.1 497.6 L1306.7 497.6 L1306.7 502.8 Q1306.7 504.4 1304.9 504.4 Q1303.1 504.4 1303.1 502.8 Z" fill="#000"/>
<text x="1297.88" y="484.5" font-size="16" font-weight="bold" fill="#000" textLength="61.02" lengthAdjust="spacingAndGlyphs">p=0.5911</text>
<path d="M1399.7 504.7 L1399.7 494.8 Q1399.7 493.2 1401.3 493.2 L1450.4 493.2 Q1452 493.2 1452 494.8 L1452 504.7 Q1452 506.3 1450.2 506.3 Q1448.4 506.3 1448.4 504.7 L1448.4 499 L1403.3 499 L1403.3 504.7 Q1403.3 506.3 1401.5 506.3 Q1399.7 506.3 1399.7 504.7 Z" fill="#000"/>
<text x="1398.98" y="484.5" font-size="16" font-weight="bold" font-style="italic" fill="#000" textLength="60.26" lengthAdjust="spacingAndGlyphs">p=0.0203</text>
<text x="1461.9" y="483.9" font-size="16" font-weight="bold" fill="#000" textLength="4.59" lengthAdjust="spacingAndGlyphs">*</text>
<rect x="335.1" y="899.4" width="60.5" height="24.5" fill="#fff" stroke="none" stroke-width="0"/>
<rect x="334.1" y="880.28" width="71.3" height="17.92" fill="#fff" stroke="none" stroke-width="0"/>
<rect x="438.1" y="899.4" width="62.8" height="24.5" fill="#fff" stroke="none" stroke-width="0"/>
<rect x="441" y="880.88" width="63.6" height="17.92" fill="#fff" stroke="none" stroke-width="0"/>
<rect x="540.3" y="898.3" width="57.8" height="22.5" fill="#fff" stroke="none" stroke-width="0"/>
<rect x="538.6" y="880.88" width="64" height="17.92" fill="#fff" stroke="none" stroke-width="0"/>
<path d="M337.6 918.3 L337.6 906.5 Q337.6 904.9 339.2 904.9 L391.5 904.9 Q393.1 904.9 393.1 906.5 L393.1 918.3 Q393.1 919.9 391.3 919.9 Q389.5 919.9 389.5 918.3 L389.5 911.6 L341.2 911.6 L341.2 918.3 Q341.2 919.9 339.4 919.9 Q337.6 919.9 337.6 918.3 Z" fill="#000"/>
<text x="336.39" y="895" font-size="16" font-weight="bold" font-style="italic" fill="#000" textLength="61.48" lengthAdjust="spacingAndGlyphs">p&lt;0.0001</text>
<text x="399.8" y="894.4" font-size="16" font-weight="bold" fill="#000" textLength="4.59" lengthAdjust="spacingAndGlyphs">*</text>
<path d="M440.6 918.3 L440.6 906.5 Q440.6 904.9 442.2 904.9 L496.8 904.9 Q498.4 904.9 498.4 906.5 L498.4 918.3 Q498.4 919.9 496.6 919.9 Q494.8 919.9 494.8 918.3 L494.8 911.6 L444.2 911.6 L444.2 918.3 Q444.2 919.9 442.4 919.9 Q440.6 919.9 440.6 918.3 Z" fill="#000"/>
<text x="441.99" y="895.6" font-size="16" font-weight="bold" fill="#000" textLength="61.66" lengthAdjust="spacingAndGlyphs">p=0.3804</text>
<path d="M542.8 915.2 L542.8 905.4 Q542.8 903.8 544.4 903.8 L594 903.8 Q595.6 903.8 595.6 905.4 L595.6 915.2 Q595.6 916.8 593.8 916.8 Q592 916.8 592 915.2 L592 910.8 L546.4 910.8 L546.4 915.2 Q546.4 916.8 544.6 916.8 Q542.8 916.8 542.8 915.2 Z" fill="#000"/>
<text x="539.56" y="895.6" font-size="16" font-weight="bold" fill="#000" textLength="62.15" lengthAdjust="spacingAndGlyphs">p=0.7114</text>
<rect x="1211.1" y="839.9" width="53.9" height="21.4" fill="#fff" stroke="none" stroke-width="0"/>
<rect x="1207.2" y="821.78" width="71.3" height="17.92" fill="#fff" stroke="none" stroke-width="0"/>
<rect x="1309" y="1155.5" width="61.9" height="23.4" fill="#fff" stroke="none" stroke-width="0"/>
<rect x="1308" y="1137.08" width="63.4" height="17.92" fill="#fff" stroke="none" stroke-width="0"/>
<rect x="1401.8" y="1154.7" width="60.2" height="23.4" fill="#fff" stroke="none" stroke-width="0"/>
<rect x="1400.8" y="1136.78" width="63.1" height="17.92" fill="#fff" stroke="none" stroke-width="0"/>
<path d="M1213.6 855.7 L1213.6 847 Q1213.6 845.4 1215.2 845.4 L1260.9 845.4 Q1262.5 845.4 1262.5 847 L1262.5 855.7 Q1262.5 857.3 1260.7 857.3 Q1258.9 857.3 1258.9 855.7 L1258.9 851.2 L1217.2 851.2 L1217.2 855.7 Q1217.2 857.3 1215.4 857.3 Q1213.6 857.3 1213.6 855.7 Z" fill="#000"/>
<text x="1209.49" y="836.5" font-size="16" font-weight="bold" font-style="italic" fill="#000" textLength="61.48" lengthAdjust="spacingAndGlyphs">p&lt;0.0001</text>
<text x="1272.9" y="835.9" font-size="16" font-weight="bold" fill="#000" textLength="4.59" lengthAdjust="spacingAndGlyphs">*</text>
<path d="M1311.5 1173.3 L1311.5 1162.6 Q1311.5 1161 1313.1 1161 L1366.8 1161 Q1368.4 1161 1368.4 1162.6 L1368.4 1173.3 Q1368.4 1174.9 1366.6 1174.9 Q1364.8 1174.9 1364.8 1173.3 L1364.8 1167.6 L1315.1 1167.6 L1315.1 1173.3 Q1315.1 1174.9 1313.3 1174.9 Q1311.5 1174.9 1311.5 1173.3 Z" fill="#000"/>
<text x="1308.98" y="1151.8" font-size="16" font-weight="bold" fill="#000" textLength="61.9" lengthAdjust="spacingAndGlyphs">p=0.8533</text>
<path d="M1404.3 1172.5 L1404.3 1161.8 Q1404.3 1160.2 1405.9 1160.2 L1457.9 1160.2 Q1459.5 1160.2 1459.5 1161.8 L1459.5 1172.5 Q1459.5 1174.1 1457.7 1174.1 Q1455.9 1174.1 1455.9 1172.5 L1455.9 1166.8 L1407.9 1166.8 L1407.9 1172.5 Q1407.9 1174.1 1406.1 1174.1 Q1404.3 1174.1 1404.3 1172.5 Z" fill="#000"/>
<text x="1401.79" y="1151.5" font-size="16" font-weight="bold" fill="#000" textLength="61.15" lengthAdjust="spacingAndGlyphs">p=0.1554</text>
<rect x="631.1" y="1487.5" width="121.3" height="37.5" fill="#fff" stroke="none" stroke-width="0"/>
<rect x="638" y="1457.3" width="114.3" height="25.2" fill="#fff" stroke="none" stroke-width="0"/>
<rect x="843" y="1488.5" width="120.1" height="45.5" fill="#fff" stroke="none" stroke-width="0"/>
<rect x="853.4" y="1458" width="103" height="25.2" fill="#fff" stroke="none" stroke-width="0"/>
<rect x="1052.2" y="1487.1" width="121.8" height="38" fill="#fff" stroke="none" stroke-width="0"/>
<rect x="1064" y="1458" width="115.6" height="25.2" fill="#fff" stroke="none" stroke-width="0"/>
<path d="M634.6 1517.8 L634.6 1494.7 Q634.6 1491.5 637.8 1491.5 L745.7 1491.5 Q748.9 1491.5 748.9 1494.7 L748.9 1517.8 Q748.9 1521 744.4 1521 Q739.9 1521 739.9 1517.8 L739.9 1505.2 L643.6 1505.2 L643.6 1517.8 Q643.6 1521 639.1 1521 Q634.6 1521 634.6 1517.8 Z" fill="#000"/>
<text x="640.47" y="1478" font-size="22.5" font-weight="bold" font-style="italic" fill="#000" textLength="109.93" lengthAdjust="spacingAndGlyphs">p&lt;0.0001*</text>
<path d="M846.5 1518.8 L846.5 1495.7 Q846.5 1492.5 849.7 1492.5 L956.4 1492.5 Q959.6 1492.5 959.6 1495.7 L959.6 1518.8 Q959.6 1522 955.1 1522 Q950.6 1522 950.6 1518.8 L950.6 1506 L855.5 1506 L855.5 1518.8 Q855.5 1522 851 1522 Q846.5 1522 846.5 1518.8 Z" fill="#000"/>
<text x="853.72" y="1478.7" font-size="22.5" font-weight="bold" fill="#000" textLength="102.24" lengthAdjust="spacingAndGlyphs">p=0.7368</text>
<path d="M1055.7 1517.9 L1055.7 1494.3 Q1055.7 1491.1 1058.9 1491.1 L1167.3 1491.1 Q1170.5 1491.1 1170.5 1494.3 L1170.5 1517.9 Q1170.5 1521.1 1166 1521.1 Q1161.5 1521.1 1161.5 1517.9 L1161.5 1505.4 L1064.7 1505.4 L1064.7 1517.9 Q1064.7 1521.1 1060.2 1521.1 Q1055.7 1521.1 1055.7 1517.9 Z" fill="#000"/>
<text x="1066.48" y="1478.7" font-size="22.5" font-weight="bold" font-style="italic" fill="#000" textLength="111.22" lengthAdjust="spacingAndGlyphs">p=0.0238*</text>
<rect x="3.6" y="13.6" width="1710.8" height="2330.6" fill="none" stroke="#111" stroke-width="1.7"/>
</svg></body></html>
